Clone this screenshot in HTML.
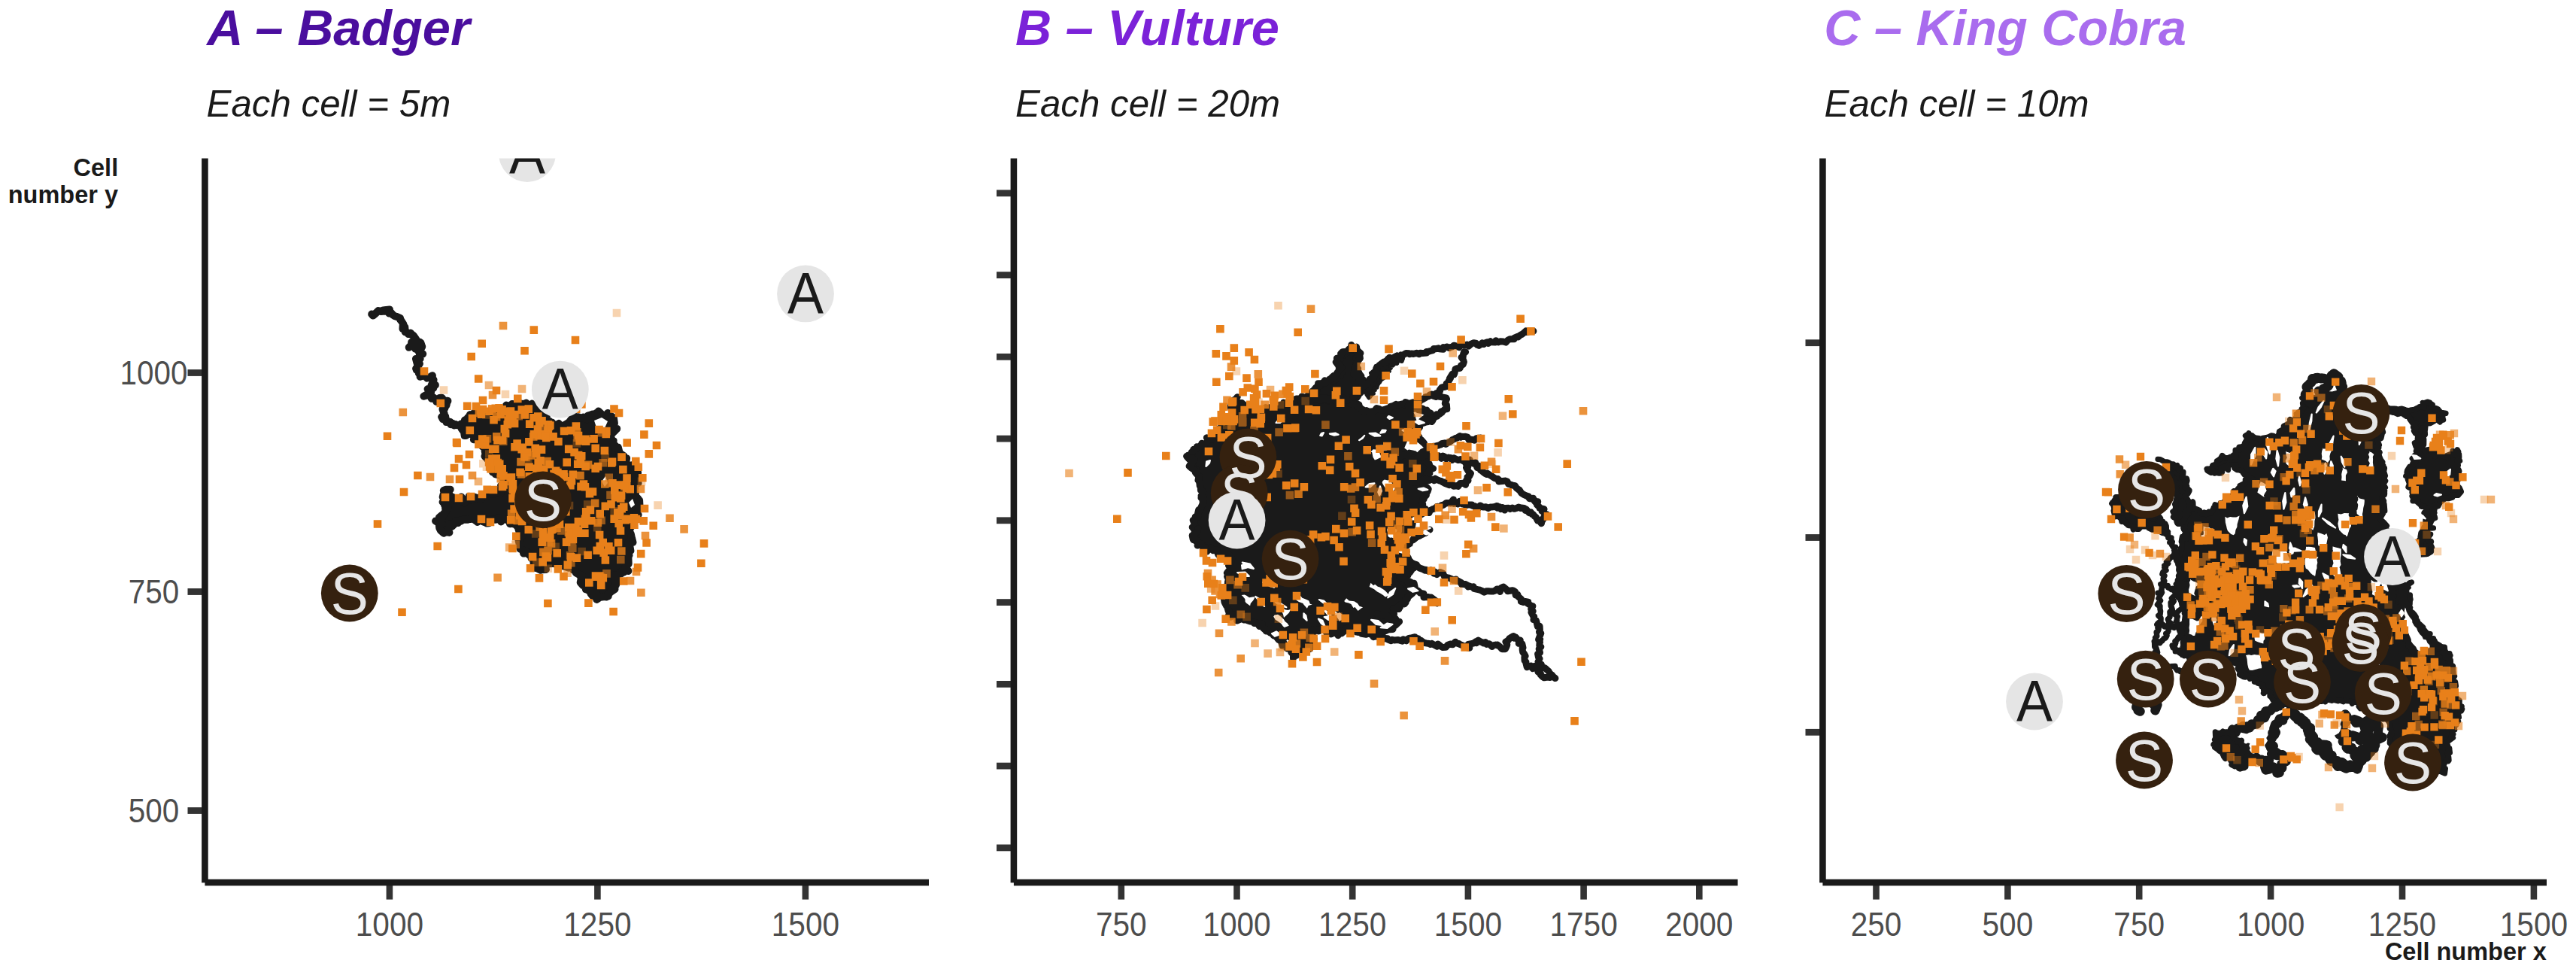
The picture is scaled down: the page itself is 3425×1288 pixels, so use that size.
<!DOCTYPE html>
<html><head><meta charset="utf-8"><title>Movement tracks</title>
<style>html,body{margin:0;padding:0;background:#fff}body{width:3425px;height:1288px;overflow:hidden;font-family:"Liberation Sans",sans-serif}svg{display:block}</style></head>
<body>
<svg width="3425" height="1288" viewBox="0 0 3425 1288" font-family="'Liberation Sans', sans-serif">
<rect width="3425" height="1288" fill="#fff"/>
<defs>
<clipPath id="cp0"><rect x="272.4" y="210.5" width="962.6" height="962.5"/></clipPath>
<clipPath id="cp1"><rect x="1347.9" y="210.5" width="962.6" height="962.5"/></clipPath>
<clipPath id="cp2"><rect x="2423.4" y="210.5" width="962.6" height="962.5"/></clipPath>
</defs>
<g clip-path="url(#cp0)">
<g fill="none" stroke="#1a1a1a" stroke-width="10" stroke-linecap="round" stroke-linejoin="round">
<path d="M494.2 417.6l1.7 2 2.7 -2.2 1.8 -1.8 2.6 -2.6 3.4 0.9 5.3 -0.1 -3.1 -1.2 2.7 -0.5 6.7 -0.7 -0.6 5.2 2.5 -0.9 2.8 3.1 2.3 1.4 1.8 0.5 5.3 2.2 0.3 2.5 0.2 -0.4 3.8 5.9 -0.7 2.2 -0.2 4 2.8 -2.4 0.4 6.6 1.4 -0.4 2.9 3.1 3 -1.4 -0.8 1.7 2.9 0.5 2.1 3.2 -0.4 -1.9 3.5 5 -0.8 0.1 0.4 4.1 -5.8 -0.3 0.7 2.6 -3 3.2 -1.1 1 4.9 -5 6.9 2.6 0.4 -1.8 -3.9 5.9 5.8 -9 1.7 1.3 1.7 5 -1.8 3.4 -3.2 2.3 6 3.9 -4.4 -0.4 0.8 6.7 -3.1 1.2 -2.5 -1 2 7.5 2.9 -0.9 -4.8 6.5 2.8 -2.7 -2.1 4.5 3.4 0.9 -0.4 3.4 2 2.4 -0.2 2.2 4.5 -1.3 1.2 -0.9 3.4 4.1 2 -0.8 0.7 0.4 4.5 -3 -0.2 4.2 1.8 1.4 -0.5 2.1 -2.5 5.4 5.3 -0.7 -4.4 1.5 1.9 2.7 -4.2 2.2 -3.5 -1 4.5 4.5 -9.7 5.1 6 -1.6 -0.9 0.2 3.2 0.2 2.1 4.3 2.1 -1.7 2.9 2 1.5 4 4 -4.9 3.3 -0.3 3.1 4.1 -1.8 -0.2 6.5 0.1 -2.2 0.5 -1.3 1.7 1.6 3.7 0.5 -2.9 -2.9 7.4 -2.1 -0.9 -0.5 1.7 2.2 6 -1.5 2.2 -2 2 1.7 3.1 2.3 -3.6 0.9 -0.4 1.3 7.7 4.7 -0.3 1.3 3.6 2.5 -1.4 2 2.7 1.9 -1.6 -1.7 0.5 6.1 1 1 -0.6 7 -3.1 4.4 5.1 -2.5 -0.4 3.4 -2.6 4.1 0.7 2.7 -1.3 5.1 -3.2"/>
<path fill="#1a1a1a" d="M613.1 563.5l6.4 -1.1 -1.5 -4 5.1 -1.2 -1.1 -2.3 0.7 1.5 2.3 -5.3 3.1 1.3 0.5 -1.8 4.2 -4.1 0.8 -0.8 5.7 3.5 1 3.9 3.8 -4.6 1.9 -0.1 4.9 1.1 0.3 1.8 3.1 -2.5 -1.4 1.7 2.2 -0.5 3.1 -3.2 0.4 2.1 9.6 -4.3 -2 0.8 0.4 -3 9.3 -2.2 -2.7 -1.6 3.1 1.2 0.9 0.7 3.6 -3.5 4.6 0.4 4.5 -0.3 0 0 2 -0.7 5.4 1 -0.9 2.6 1.5 -3.5 1.7 -0.9 3.8 4.3 2.3 -1.7 1.7 -1.4 1.7 1.6 -1.3 3 1.6 -1.4 5.9 2.9 -0.8 0.2 2.9 6 1.2 -2.6 0 7.8 2.5 -2.1 5.6 2.3 -0.4 3.9 4.2 1.3 -0.5 2.1 4.1 -0.2 2.9 5.6 2.9 -1.1 0.8 0.8 -3.2 -0.9 5.4 -3 5.6 6.5 0.5 -0.3 -1.1 -2.6 2.9 -1.6 5.6 -3.5 3 -3.8 3.5 -0.5 -1.5 -1.9 0.8 -4.1 2.6 6.9 2.5 0.1 2 -2.1 -0.5 -1.9 6.3 1.8 0.7 -1.5 4.8 2.9 1.1 -4.8 2.6 1.6 -2.6 -1.3 6.4 -2.5 0 6.5 5.2 -6.1 -1 -1.5 3.1 3.8 0.4 -6.6 8 7.8 4.4 -5.4 0.7 3.5 3.5 1.5 0.9 -0.4 2.6 1.9 0.9 6.3 0.1 1.2 -3.6 4.3 -1 2.1 7.9 0.4 -5.2 0.3 3.6 1.7 -4.4 4.2 -2.5 2.9 0.3 -0.8 -0.6 1.3 1.8 4.1 0.5 2.1 1.9 0.5 -0.5 2.7 0.1 1.4 2.8 2.1 0 3.4 3.8 -1.2 1.8 7 0 0.7 6 4.1 -1.4 1 4.9 1.9 -0.7 5 0 -1.2 -3.6 4.9 6.5 2.5 -2.4 -0.8 8 -1.2 0 5.8 -0.9 3.6 1.3 -1.7 6.8 2.2 -4.9 -0.6 2 5.5 2.7 4.9 -1.6 0.2 0 2 2.3 1.9 -5.5 1.5 -3.8 3.6 5 1.9 -2.7 0.8 1.2 4.5 1 -2.4 1 4.1 0.7 3.9 2.9 2.9 1.8 4.2 -0.1 -2.1 0.5 9.9 0 1.1 -1.7 2 -2 3.3 -1.3 1.2 3 1.6 -1.4 0.2 -8 7.9 0.8 -3.9 2.6 0.1 -2.8 11.3 -1.5 -2.4 1.2 1.9 -1.8 1.8 0.1 2.3 -1.5 1.8 2.5 4.7 0.8 3.6 1.9 7.6 -5.8 -0.3 0.2 5.1 1.1 -1.9 1.4 8.3 -4 -0.7 0.3 2.9 -1.5 3.6 -1.1 -1 4.4 1.1 -1.6 1.6 0.5 0.9 0.3 9 -2.6 -1.6 0.1 3.9 -2 2.2 4.2 4.8 -5.3 -1.4 -0.2 2.9 -4.6 1.8 0.4 0.4 -0.5 -2.2 -3.8 4.4 -4.4 -0.3 0 3 3.6 1.2 -2.7 3.9 3.2 -0.1 -2.5 5.6 -3.7 4 2.6 1 -5.2 3.6 2.3 -2.5 -6.8 6.7 1 1.5 -2.5 1.1 -0.5 -0.6 -5.1 0.6 -2.2 -0.2 -5.2 3.6 0 -3.8 -0.5 -5.2 -3.3 3.3 -1.5 1 -2.5 -3.3 -0.7 -3 -2.9 -1.2 -1.5 -5.2 -1.5 3.9 -1.1 -5.4 -2.7 0.1 -3.4 -3.9 1.1 -5.3 -0.7 -2 1.4 -0.3 0.5 -1.3 -2.9 -1.7 -1.3 0 -4.1 -2.3 -0.8 -4.7 -2.6 1.1 2.3 -1.9 -5.6 -1.9 0.6 -3.3 -4 4 -6.8 -2.4 -1.4 -4.7 -2.4 5.2 -1 -4.3 -3.1 2.7 -1.2 -0.6 -1.4 -1.8 -8.2 0.5 -4.1 -0.4 -0.3 5.5 -1.6 -2.9 1.8 5.5 -6 0.4 -1.1 0.4 -3.5 -1.8 1.3 1 -3.5 -4 -1.3 2.1 -0.6 -3.2 -1.7 -3.7 0.8 -2.9 -3.8 -3.2 2.3 -0.8 -3.7 -2.5 -3.3 -2.4 -4.5 -2.8 4.4 0.4 -5.6 1.7 -0.8 -4.4 -3.8 -1.5 -0.4 -3 -0.7 -4.7 -0.8 -3.6 2.2 -0.8 -0.8 -0.9 -0.2 -3.4 1.4 1.2 3.5 -4 -5.8 -0.3 3.3 -0.5 2.8 -2.3 -5.2 0.4 -2.1 -7 2.4 -3 -4.4 1 0 -1.6 -7 -1.3 -1.7 0.4 1.5 -3.8 -3.1 -1.8 -3.4 0.3 -4.2 -1.9 -2.6 4.3 0.3 -1.3 -4.1 -4 -2 2.3 -1.8 0.3 -9.5 -0.8 1.1 5.3 -3.2 0.4 1.2 -2.9 -1.2 1.2 -2.8 0.3 -5.1 -2 -1.7 -2.5 -2.6 4.2 -6.1 -4.7 -3.7 0.9 -1.9 0.1 -0.9 0.5 -6 -0.2 -4.8 1.1 1.6 1 2.8 -1.8 -4.7 1.1 -2.2 3.2 -3.1 -2.7 -1.5 4.1 -3.3 3.3 -4.5 -3.4 1.5 3.6 1.8 -0.6 -6.4 7.5 4 1 -4.1 -0.8 -3.4 1.6 -2.8 -2.6 -1.3 -1.1 -1.5 -3.2 -0.3 -2.5 1.7 -5 0.8 2.3 -5.1 -2.6 -2.3 -1.4 3.2 0.7 1.6 -5.5 3.8 -3.1 0.5 1.3 0.4 0.9 1.9 -4.8 2.2 -2 -0.7 -6 3.8 1.1 -4.7 -3.6 3.9 -2 -6.4 -2.2 4.5 -4.6 -4 -3.5 0.5 -2.1 -0.9 3.6 1.4 -5 1.2 -1.7 -1.5 -2.1 3.2 -1.2 5.7 -0.1 -3.5 3.3 4.1 5.8 3.2 1.4 0.1 0 2.2 3.7 1.6 -2.6 4.6 0.2 2.4 -2 1.5 6.6 1.9 -2 0.5 3.2 4.7 -5.7 4.6 2.2 -3.1 -5 2 2.2 5.7 -1.3 0.3 1.9 6.7 0.6 -1.2 -1.8 3.3 1.4 3.1 -4.4 3.9 1 -1.2 -0.6 2 -3.7 1.4 1.2 6.2 0.7 4.3 -4.9 5.4 3.8 -3 -2 6.9 -4.8 -3.3 -3.4 8.7 -1.5 -0.9 -2.2 -1.8 -2.8 -1.8 -3.9 -1.1 1.6 0.1 -0.7 -3.7 -4.3 -6.5 -1.5 -0.5 -0.3 3.1 0.1 -3.6 -5.9 -3 3.2 3.8 -1.6 -1.3 -2.4 -4.9 -3.2 -0.6 -5.8 1 -2.7 -2.4 -0.3 -0.7 0.8 -5.4 -5.9 2.7 -1.3 -1.5 0.3 -1 -6.3 2.9 -2 -4.1 -3.2 -2.4 -0.6 2.4 -5.6 -2.7 -1.6 -5 -1 -2.7 -1.2 1 0.1 -4.2 0.3 0.8 -6.3 -5.7 -1.2 -2.8 -1.7 -2.3 3.9 -2.2 0 -0.7 -5 2.8 3.1 -4.8 -5.6 -1.3 -1.8 -0.7 -3 4.1 -2.2z"/>
</g>
<path fill="#fff" d="M790 559l10-4 8 5-4 9-10 2z M836 668l5-5 3 8-5 4z M800 640l5-7 3 9-4 5z"/>
<path fill="#E8801A" d="M806.9 726.4h10.6v10.6h-10.6zM772.7 684.5h10.6v10.6h-10.6zM780.8 687h10.6v10.6h-10.6zM679.2 589h10.6v10.6h-10.6zM738.7 691.5h10.6v10.6h-10.6zM712.9 571.9h10.6v10.6h-10.6zM793.9 772.7h10.6v10.6h-10.6zM793.7 762.5h10.6v10.6h-10.6zM676.2 547.3h10.6v10.6h-10.6zM678.8 557.6h10.6v10.6h-10.6zM669.5 558.9h10.6v10.6h-10.6zM678.7 652.1h10.6v10.6h-10.6zM747 675h10.6v10.6h-10.6zM732 643h10.6v10.6h-10.6zM732.4 653h10.6v10.6h-10.6zM734 666.2h10.6v10.6h-10.6zM685.8 679.9h10.6v10.6h-10.6zM688.8 687.6h10.6v10.6h-10.6zM827.9 638.9h10.6v10.6h-10.6zM823.1 618.8h10.6v10.6h-10.6zM692.7 546.1h10.6v10.6h-10.6zM704.3 549.9h10.6v10.6h-10.6zM697.5 538.3h10.6v10.6h-10.6zM640 580.6h10.6v10.6h-10.6zM715.9 674.8h10.6v10.6h-10.6zM786.7 760.3h10.6v10.6h-10.6zM760.6 561.2h10.6v10.6h-10.6zM763.7 573.7h10.6v10.6h-10.6zM710 548.3h10.6v10.6h-10.6zM829.5 684.5h10.6v10.6h-10.6zM756.5 625.5h10.6v10.6h-10.6zM744.2 625h10.6v10.6h-10.6zM733.8 620.6h10.6v10.6h-10.6zM711.7 690.4h10.6v10.6h-10.6zM743.8 656.5h10.6v10.6h-10.6zM743 644.7h10.6v10.6h-10.6zM732.8 645.8h10.6v10.6h-10.6zM673.7 541.3h10.6v10.6h-10.6zM715.5 670.6h10.6v10.6h-10.6zM762.4 703.3h10.6v10.6h-10.6zM751 695.7h10.6v10.6h-10.6zM776.3 732.4h10.6v10.6h-10.6zM726 709.3h10.6v10.6h-10.6zM761.9 699.8h10.6v10.6h-10.6zM756.6 711.7h10.6v10.6h-10.6zM747.8 715.3h10.6v10.6h-10.6zM707.8 597.5h10.6v10.6h-10.6zM714.7 592.3h10.6v10.6h-10.6zM788.4 726.5h10.6v10.6h-10.6zM796.4 715.8h10.6v10.6h-10.6zM804.1 720.9h10.6v10.6h-10.6zM673.9 686h10.6v10.6h-10.6zM692 602h10.6v10.6h-10.6zM748.4 609.3h10.6v10.6h-10.6zM684.2 662.7h10.6v10.6h-10.6zM773.9 675h10.6v10.6h-10.6zM807.2 664.9h10.6v10.6h-10.6zM720.1 638h10.6v10.6h-10.6zM737.1 581.7h10.6v10.6h-10.6zM792.4 677.8h10.6v10.6h-10.6zM799.5 667.6h10.6v10.6h-10.6zM772.6 642h10.6v10.6h-10.6zM778.7 651h10.6v10.6h-10.6zM711.8 556.8h10.6v10.6h-10.6zM724.5 561.4h10.6v10.6h-10.6zM689.5 589.4h10.6v10.6h-10.6zM698.1 582.1h10.6v10.6h-10.6zM669.7 541.4h10.6v10.6h-10.6zM812 646.2h10.6v10.6h-10.6zM820 657.2h10.6v10.6h-10.6zM823.9 668.4h10.6v10.6h-10.6zM767.2 641.4h10.6v10.6h-10.6zM779.6 672.6h10.6v10.6h-10.6zM774.2 681h10.6v10.6h-10.6zM808.7 608.5h10.6v10.6h-10.6zM799.6 739.2h10.6v10.6h-10.6zM797.4 729.5h10.6v10.6h-10.6zM792.5 720.7h10.6v10.6h-10.6zM711.5 573.9h10.6v10.6h-10.6zM720.9 576.7h10.6v10.6h-10.6zM730.3 575.1h10.6v10.6h-10.6zM737.2 656h10.6v10.6h-10.6zM738.4 666.8h10.6v10.6h-10.6zM753.1 640h10.6v10.6h-10.6zM772.1 703.4h10.6v10.6h-10.6zM771.8 691.4h10.6v10.6h-10.6zM739.6 632.4h10.6v10.6h-10.6zM731.2 624.4h10.6v10.6h-10.6zM766.5 606.5h10.6v10.6h-10.6zM789.7 614.8h10.6v10.6h-10.6zM725.6 611.9h10.6v10.6h-10.6zM717.8 618.2h10.6v10.6h-10.6zM710.4 609.8h10.6v10.6h-10.6zM819.7 700.2h10.6v10.6h-10.6zM729.7 698.2h10.6v10.6h-10.6zM736.8 681.9h10.6v10.6h-10.6zM773.2 578.6h10.6v10.6h-10.6zM765.3 581h10.6v10.6h-10.6zM688.5 539.3h10.6v10.6h-10.6zM679.1 545.7h10.6v10.6h-10.6zM724.6 660.1h10.6v10.6h-10.6zM713.9 666.7h10.6v10.6h-10.6zM721.3 672.3h10.6v10.6h-10.6zM713.1 607.1h10.6v10.6h-10.6zM821.3 671h10.6v10.6h-10.6zM686.3 622.4h10.6v10.6h-10.6zM708.2 617.4h10.6v10.6h-10.6zM832.4 645h10.6v10.6h-10.6zM676.3 657.1h10.6v10.6h-10.6zM676.7 645.7h10.6v10.6h-10.6zM670.4 553.4h10.6v10.6h-10.6zM671.9 544.5h10.6v10.6h-10.6zM816.7 716h10.6v10.6h-10.6zM744.7 628.7h10.6v10.6h-10.6zM736.1 622.8h10.6v10.6h-10.6zM682.3 584.3h10.6v10.6h-10.6zM688.4 591.8h10.6v10.6h-10.6zM760.1 695.7h10.6v10.6h-10.6zM701.3 683.7h10.6v10.6h-10.6zM697 676.1h10.6v10.6h-10.6zM731.2 657.1h10.6v10.6h-10.6zM719.7 656.1h10.6v10.6h-10.6zM717.7 664.1h10.6v10.6h-10.6zM706.4 590.5h10.6v10.6h-10.6zM695.5 595.9h10.6v10.6h-10.6zM800.5 571.6h10.6v10.6h-10.6zM750.9 591.6h10.6v10.6h-10.6zM758.3 596h10.6v10.6h-10.6zM704.7 572.1h10.6v10.6h-10.6zM709.7 565.2h10.6v10.6h-10.6zM723.2 567.5h10.6v10.6h-10.6zM796.5 763h10.6v10.6h-10.6zM787 761.5h10.6v10.6h-10.6zM778 769.2h10.6v10.6h-10.6zM763.8 599.8h10.6v10.6h-10.6zM791.8 705.7h10.6v10.6h-10.6zM678.3 671.2h10.6v10.6h-10.6zM684 659.5h10.6v10.6h-10.6zM816 675.9h10.6v10.6h-10.6zM744.8 567.7h10.6v10.6h-10.6zM828.2 630.3h10.6v10.6h-10.6zM818.9 639.3h10.6v10.6h-10.6zM809.1 637h10.6v10.6h-10.6zM698.1 615.4h10.6v10.6h-10.6zM698.5 628h10.6v10.6h-10.6zM767.9 600.9h10.6v10.6h-10.6zM782.7 648.2h10.6v10.6h-10.6zM770.7 638.2h10.6v10.6h-10.6zM754.7 634h10.6v10.6h-10.6zM722.6 736h10.6v10.6h-10.6zM726.1 560.2h10.6v10.6h-10.6zM698.9 558.3h10.6v10.6h-10.6zM707.2 550h10.6v10.6h-10.6zM754 701.4h10.6v10.6h-10.6zM763.6 700.6h10.6v10.6h-10.6zM763.6 687.9h10.6v10.6h-10.6zM820.8 653.3h10.6v10.6h-10.6zM812.6 656h10.6v10.6h-10.6zM827.7 643.6h10.6v10.6h-10.6zM662.6 579.7h10.6v10.6h-10.6zM666.8 570.8h10.6v10.6h-10.6zM715.2 554h10.6v10.6h-10.6zM723.7 559h10.6v10.6h-10.6zM792 760.2h10.6v10.6h-10.6zM826.8 685.9h10.6v10.6h-10.6zM798.6 593.7h10.6v10.6h-10.6zM807.9 610.2h10.6v10.6h-10.6zM786.4 617.5h10.6v10.6h-10.6zM773.3 614.6h10.6v10.6h-10.6zM762.9 611.4h10.6v10.6h-10.6zM676.6 638h10.6v10.6h-10.6zM674.6 629.3h10.6v10.6h-10.6zM753.7 567h10.6v10.6h-10.6zM773.9 581.3h10.6v10.6h-10.6zM791.2 565.7h10.6v10.6h-10.6zM801 567.8h10.6v10.6h-10.6zM818.8 679.5h10.6v10.6h-10.6zM811.4 684.3h10.6v10.6h-10.6zM817.4 690.3h10.6v10.6h-10.6zM786.4 590.6h10.6v10.6h-10.6zM784.3 578.1h10.6v10.6h-10.6zM665.5 564.8h10.6v10.6h-10.6zM619.5 566.7h10.6v10.6h-10.6zM651.2 552.9h10.6v10.6h-10.6zM660.7 545.7h10.6v10.6h-10.6zM658.3 537h10.6v10.6h-10.6zM631.1 585.3h10.6v10.6h-10.6zM650.8 608.4h10.6v10.6h-10.6zM664.1 627.1h10.6v10.6h-10.6zM658 618.2h10.6v10.6h-10.6zM653.5 537.5h10.6v10.6h-10.6zM636.8 538.7h10.6v10.6h-10.6zM656.2 579.8h10.6v10.6h-10.6zM662.4 617.9h10.6v10.6h-10.6zM649.2 604.7h10.6v10.6h-10.6zM645.8 615.1h10.6v10.6h-10.6zM658.9 611.5h10.6v10.6h-10.6zM660.6 623.9h10.6v10.6h-10.6zM662.3 538.9h10.6v10.6h-10.6zM653.6 537.7h10.6v10.6h-10.6zM634.6 545.4h10.6v10.6h-10.6zM649.9 591.5h10.6v10.6h-10.6zM639.6 586.1h10.6v10.6h-10.6zM636 578.3h10.6v10.6h-10.6zM654.5 604.2h10.6v10.6h-10.6zM653.1 591.5h10.6v10.6h-10.6zM645.3 541.5h10.6v10.6h-10.6zM634.1 539.8h10.6v10.6h-10.6zM761.6 736.3h10.6v10.6h-10.6zM715.4 715.3h10.6v10.6h-10.6zM753.8 734.9h10.6v10.6h-10.6zM727.9 698.9h10.6v10.6h-10.6zM717 706.4h10.6v10.6h-10.6zM716.8 702.1h10.6v10.6h-10.6zM751.9 707.9h10.6v10.6h-10.6zM753.1 708.1h10.6v10.6h-10.6zM697.5 698.7h10.6v10.6h-10.6zM702.8 734.8h10.6v10.6h-10.6zM716.4 741.8h10.6v10.6h-10.6zM720.4 734.2h10.6v10.6h-10.6zM735.4 730h10.6v10.6h-10.6zM615.9 534.5h10.6v10.6h-10.6zM840 607.8h10.6v10.6h-10.6zM837.7 682.9h10.6v10.6h-10.6zM823.9 767.2h10.6v10.6h-10.6zM647.2 618h10.6v10.6h-10.6zM644.8 609.2h10.6v10.6h-10.6zM711.7 763.1h10.6v10.6h-10.6zM849 630h10.6v10.6h-10.6zM683 524.6h10.6v10.6h-10.6zM768.1 532.2h10.6v10.6h-10.6zM843.5 615.5h10.6v10.6h-10.6zM850.4 687.1h10.6v10.6h-10.6zM749.5 745.6h10.6v10.6h-10.6zM676.1 723.7h10.6v10.6h-10.6zM821.3 602.3h10.6v10.6h-10.6zM699.8 750h10.6v10.6h-10.6zM760.9 538.3h10.6v10.6h-10.6zM664.2 639.1h10.6v10.6h-10.6zM838.1 692.4h10.6v10.6h-10.6zM777.1 796.3h10.6v10.6h-10.6zM736.6 751.1h10.6v10.6h-10.6zM681 707.6h10.6v10.6h-10.6zM744.2 761h10.6v10.6h-10.6zM846.9 730.8h10.6v10.6h-10.6zM642.4 645.4h10.6v10.6h-10.6zM842.7 749.1h10.6v10.6h-10.6zM586.7 655.7h10.6v10.6h-10.6zM604.7 656.7h10.6v10.6h-10.6zM620.7 654.7h10.6v10.6h-10.6zM635.7 651.7h10.6v10.6h-10.6zM650.7 645.7h10.6v10.6h-10.6zM662.7 641.7h10.6v10.6h-10.6zM634.7 684.7h10.6v10.6h-10.6zM646.7 688.7h10.6v10.6h-10.6zM601.7 582.7h10.6v10.6h-10.6zM604.7 604.7h10.6v10.6h-10.6zM618.7 598.7h10.6v10.6h-10.6zM704.5 433.3h10.6v10.6h-10.6zM759.7 446.7h10.6v10.6h-10.6zM635.4 451.5h10.6v10.6h-10.6zM692.2 461h10.6v10.6h-10.6zM621.4 468.7h10.6v10.6h-10.6zM630.9 498.2h10.6v10.6h-10.6zM558.7 488.2h10.6v10.6h-10.6zM580.5 530.7h10.6v10.6h-10.6zM509.7 574.5h10.6v10.6h-10.6zM602.3 583.7h10.6v10.6h-10.6zM550.1 626.7h10.6v10.6h-10.6zM531.7 648.7h10.6v10.6h-10.6zM496.7 691.2h10.6v10.6h-10.6zM576.4 720.7h10.6v10.6h-10.6zM604.1 777.7h10.6v10.6h-10.6zM529.2 808.4h10.6v10.6h-10.6zM723.1 796.7h10.6v10.6h-10.6zM810.3 807.7h10.6v10.6h-10.6zM927 743.5h10.6v10.6h-10.6zM930.7 717.1h10.6v10.6h-10.6zM854.3 716.2h10.6v10.6h-10.6zM863.4 693.5h10.6v10.6h-10.6zM857.5 557.3h10.6v10.6h-10.6zM851.1 572.3h10.6v10.6h-10.6zM867.7 586.7h10.6v10.6h-10.6zM857.5 598.1h10.6v10.6h-10.6zM828.4 583.2h10.6v10.6h-10.6zM817.7 543.7h10.6v10.6h-10.6zM811.2 538.2h10.6v10.6h-10.6zM654.7 513.7h10.6v10.6h-10.6zM627.7 534.7h10.6v10.6h-10.6zM636.7 526.7h10.6v10.6h-10.6zM622.7 550.7h10.6v10.6h-10.6zM840.7 684.7h10.6v10.6h-10.6zM851.7 670.7h10.6v10.6h-10.6zM598.7 616.7h10.6v10.6h-10.6zM605.7 631.7h10.6v10.6h-10.6zM614.7 612.7h10.6v10.6h-10.6z"/>
<path fill="#E8801A" fill-opacity="0.85" d="M723.6 565.7h10.6v10.6h-10.6zM792.9 725.8h10.6v10.6h-10.6zM693.1 677.2h10.6v10.6h-10.6zM705.5 678.4h10.6v10.6h-10.6zM716.2 678.3h10.6v10.6h-10.6zM674.8 677.5h10.6v10.6h-10.6zM682.5 686.6h10.6v10.6h-10.6zM705.4 678.7h10.6v10.6h-10.6zM687.2 608.7h10.6v10.6h-10.6zM785.8 663.6h10.6v10.6h-10.6zM716.1 651.4h10.6v10.6h-10.6zM703.9 575.1h10.6v10.6h-10.6zM743.4 642.5h10.6v10.6h-10.6zM776.8 612.6h10.6v10.6h-10.6zM821 727.2h10.6v10.6h-10.6zM728.8 690h10.6v10.6h-10.6zM761.9 569h10.6v10.6h-10.6zM701.9 600.2h10.6v10.6h-10.6zM722.3 607.8h10.6v10.6h-10.6zM824.8 641.5h10.6v10.6h-10.6zM673.4 634.6h10.6v10.6h-10.6zM751.2 702.7h10.6v10.6h-10.6zM766.2 626.8h10.6v10.6h-10.6zM715.5 690.8h10.6v10.6h-10.6zM789.6 689.5h10.6v10.6h-10.6zM687.6 625.1h10.6v10.6h-10.6zM655 575.1h10.6v10.6h-10.6zM799 638.2h10.6v10.6h-10.6zM631.6 543.3h10.6v10.6h-10.6zM649.2 617.9h10.6v10.6h-10.6zM660.5 631h10.6v10.6h-10.6zM658.3 612.6h10.6v10.6h-10.6zM648.9 538.2h10.6v10.6h-10.6zM656.5 609.7h10.6v10.6h-10.6zM654.8 548.8h10.6v10.6h-10.6zM735.1 696.3h10.6v10.6h-10.6zM727.7 717.1h10.6v10.6h-10.6zM723.2 726.5h10.6v10.6h-10.6zM717.1 728.6h10.6v10.6h-10.6zM712.4 695.2h10.6v10.6h-10.6zM663.7 427.7h10.6v10.6h-10.6zM530.5 542.7h10.6v10.6h-10.6zM566.7 628.7h10.6v10.6h-10.6zM656.3 762.5h10.6v10.6h-10.6zM847.1 782.5h10.6v10.6h-10.6zM904.3 698.1h10.6v10.6h-10.6zM885.2 683.5h10.6v10.6h-10.6zM649.7 519.7h10.6v10.6h-10.6zM846.7 644.7h10.6v10.6h-10.6zM852.7 706.7h10.6v10.6h-10.6zM840.7 754.7h10.6v10.6h-10.6zM832.7 766.7h10.6v10.6h-10.6zM622.7 626.7h10.6v10.6h-10.6zM592.7 631.7h10.6v10.6h-10.6z"/>
<path fill="#E8801A" fill-opacity="0.6" d="M750.5 702.3h10.6v10.6h-10.6zM741 700.1h10.6v10.6h-10.6zM748 665.8h10.6v10.6h-10.6zM684.4 548h10.6v10.6h-10.6zM727.1 649.2h10.6v10.6h-10.6zM716.8 561.6h10.6v10.6h-10.6zM719.6 574.4h10.6v10.6h-10.6zM794.3 686.4h10.6v10.6h-10.6zM820 738.7h10.6v10.6h-10.6zM663.9 581.4h10.6v10.6h-10.6zM794.6 569.8h10.6v10.6h-10.6zM694.6 602.6h10.6v10.6h-10.6zM806.2 652.8h10.6v10.6h-10.6zM801.2 757.1h10.6v10.6h-10.6zM762.3 576.4h10.6v10.6h-10.6zM804.4 629.5h10.6v10.6h-10.6zM796.4 609.9h10.6v10.6h-10.6zM642.7 578h10.6v10.6h-10.6zM754 742.8h10.6v10.6h-10.6zM724.2 715.9h10.6v10.6h-10.6zM755.2 721.4h10.6v10.6h-10.6zM756 723.4h10.6v10.6h-10.6zM752.8 733.1h10.6v10.6h-10.6zM680.4 718.5h10.6v10.6h-10.6zM749.2 756.4h10.6v10.6h-10.6zM649.2 538h10.6v10.6h-10.6zM671.9 722.3h10.6v10.6h-10.6zM644.7 506.7h10.6v10.6h-10.6zM688.7 511.7h10.6v10.6h-10.6zM630.7 634.7h10.6v10.6h-10.6z"/>
<path fill="#E8801A" fill-opacity="0.35" d="M788.9 695.9h10.6v10.6h-10.6zM675.7 643.6h10.6v10.6h-10.6zM768.3 727.7h10.6v10.6h-10.6zM761.6 584.1h10.6v10.6h-10.6zM697 608.9h10.6v10.6h-10.6zM775.9 665.3h10.6v10.6h-10.6zM751.7 666.7h10.6v10.6h-10.6zM811.4 673.9h10.6v10.6h-10.6zM698.2 615.4h10.6v10.6h-10.6zM767.3 688.3h10.6v10.6h-10.6zM799.3 603.1h10.6v10.6h-10.6zM641.1 546.1h10.6v10.6h-10.6zM645 598.2h10.6v10.6h-10.6zM708.1 742.2h10.6v10.6h-10.6zM706.9 704.2h10.6v10.6h-10.6zM733.4 721.5h10.6v10.6h-10.6zM847.7 634.6h10.6v10.6h-10.6zM641.7 615.5h10.6v10.6h-10.6zM723.6 750.4h10.6v10.6h-10.6zM637.1 611h10.6v10.6h-10.6zM814.7 410.7h10.6v10.6h-10.6zM584.7 513.2h10.6v10.6h-10.6zM869.3 666.3h10.6v10.6h-10.6zM666.7 518.7h10.6v10.6h-10.6z"/>
<circle cx="722" cy="664.3" r="37.9" fill="#35210F"/>
<circle cx="464.8" cy="788.5" r="37.9" fill="#35210F"/>
<text transform="translate(722 691.5) scale(1 1.03)" font-size="75" fill="#E6E6E6" text-anchor="middle">S</text>
<text transform="translate(464.8 815.7) scale(1 1.03)" font-size="75" fill="#E6E6E6" text-anchor="middle">S</text>
<circle cx="701" cy="204" r="37.9" fill="#E5E5E5"/>
<circle cx="1071" cy="390.4" r="37.9" fill="#E5E5E5"/>
<circle cx="744.8" cy="517.6" r="37.9" fill="#E5E5E5"/>
<text transform="translate(701 230.6) scale(1 1.09)" font-size="72" fill="#1a1a1a" text-anchor="middle">A</text>
<text transform="translate(1071 417) scale(1 1.09)" font-size="72" fill="#1a1a1a" text-anchor="middle">A</text>
<text transform="translate(744.8 544.2) scale(1 1.09)" font-size="72" fill="#1a1a1a" text-anchor="middle">A</text>
</g>
<g clip-path="url(#cp1)">
<g fill="none" stroke="#1a1a1a" stroke-width="9" stroke-linecap="round" stroke-linejoin="round">
<path fill="#1a1a1a" d="M1578.5 606.6l0.9 -1.4 3.2 0.4 1.6 -4.4 1.3 0.3 1.4 -4.3 3.9 -1.3 0.5 0.2 0 -2.3 3.8 0.3 2.6 -2.3 0.1 -2.6 3.8 1.7 2.7 -2.7 2.9 -4 -2.8 -2.4 7.3 2.5 0.4 -5.8 -0.3 -1.3 7 -1.6 -0.5 -1 4.4 -2.1 -1.7 -3.1 5.2 -1.1 0.6 -2.4 -0.7 -2.5 1.9 1.5 -0.1 -4.9 4.2 1.4 3.4 -4 0.3 -0.2 0.8 -3.4 2.7 1.5 1.3 -1.6 -0.9 -5.6 -0.7 -2.8 4.2 1 -0.7 -7.1 -0.8 0.1 -0.1 -0.8 -1.5 -3.2 3.4 -2.1 1.1 1.9 1.5 0.3 5.1 0.1 3.9 3.5 -0.1 4.2 -1.4 1.9 4 0 0.7 4.4 4.1 1.7 -2.6 -3.2 4 -1.1 4.2 -0.2 -0.1 -0.5 2.9 1.7 2.6 -0.8 6.7 -1.9 2.7 -2 -0.3 -1.6 2.4 2.1 2.5 -2 1.9 0.5 5.4 -2 -2.4 -2.6 5.7 1.8 2.8 -0.9 5.7 -0.9 -0.5 -0.3 0.8 -2.2 4.9 1.1 1 1.7 2.2 -3.6 2 2.6 2.1 -2.9 3 -1.6 1.2 -2.5 6.8 0.2 0.9 2.1 4.1 -2.9 -4.1 -2.3 6.1 2.1 2.2 -3.9 1.8 -0.2 3.9 -0.6 1.5 0.7 1.9 5.3 -0.3 0.4 4.9 -2 4.7 -0.5 -1.2 1.5 2.7 1.9 1.6 -1 5.9 2.1 6.5 -3.8 -0.2 2.5 1.1 -1.3 4.1 0.3 2.3 2.1 1.2 -4.2 1.8 1.2 5.2 1.2 2.1 -1.8 0.4 3.5 2.2 3.4 5 1.1 2.6 -0.5 -0.4 -1.9 6.4 3.4 -2.4 2.4 2.3 -1.2 2.5 3.7 4.5 2.7 -0.3 1.7 3.4 -1.7 3.1 1.7 5 -0.5 2.2 -0.2 3.1 -4 3.8 1 0.5 0.7 3.3 0.9 3.9 -1.1 3 -1.3 1.2 2.6 2.6 -5.1 4.9 -1.1 0.3 -0.6 2.3 -1.3 -1 1.3 5.1 -0.8 4.2 -0.8 6.1 1.7 -1.8 -4.2 0.4 0.1 4.2 2 5.6 -1.9 0.5 3 2 -1.2 2.4 1.1 1.2 1.2 2.7 2.6 0 1.3 3.3 0.2 3.5 2.7 2.5 -0.5 0.4 2.1 4.9 1.9 -0.4 1.1 1.5 3.8 -1.5 -0.7 2.5 3.5 1.5 -0.1 -2.2 3.9 -1.3 -1.4 -4.5 -0.8 1 2.1 -3.5 0.7 -3.6 1.3 -1.1 -0.4 -2 1.2 -1.8 1.6 -2.3 1.9 3 1.1 -3.7 4.4 -3 3 -5.1 0.3 4.5 -0.2 1.2 3.1 4.5 1.4 1 1 0 3.6 2.9 0.3 3.5 4.1 0.5 2.2 -1.8 2.3 -1.7 1.9 -0.4 1.4 -0.9 1 -3.3 1.2 1.6 1.5 -0.5 4.3 6.6 1.6 2.1 2 -4.6 3.5 7.8 -1.9 -2.1 4.6 3.2 1.4 1.4 3.8 1.7 2.1 2.6 0.9 -5.6 2.3 0.8 4 -3.8 1 -0.9 6.8 -1.2 -1.5 -2.4 6.4 -0.4 2.9 2.9 1.3 -2.5 -0.9 3.7 2.1 3 2.9 -0.8 2.8 -1.8 2.9 -0.6 0.3 0.4 2.2 -4.1 4 0.8 1.3 -2.6 3.3 1.2 3.4 -2 1.8 0.3 3.4 5 0.7 0.2 1.8 -2.3 0.5 -3.8 3.2 0.2 2.4 -2.5 0.3 -3.7 2 -0.3 2.4 0.3 1.5 -4.6 -0.5 -0.3 5.9 -0.9 5.1 -0.3 -2.6 -0.9 0.7 -3.1 3.7 1 1.1 -2 2.1 -0.6 1.7 -3.8 4 -1.3 4.3 0.1 1.8 -1.2 -1.4 2.7 5.3 -1.5 -0.5 -2.5 2.3 1.4 2.6 1.5 4.6 3.1 2.9 -2.1 2.4 -0.7 0.4 2.5 1.2 3 4.6 -2.6 1.2 0.4 4.6 4.4 -1.9 2.1 4.5 -0.2 -1.4 5 4.1 -1.6 2 -1 -0.5 -4.7 6.6 -1.8 -1.6 -0.6 5.3 -4.9 2.8 0.4 0.4 -0.7 1.1 -3.7 1.4 -2.1 -3.3 3.3 5.1 1.2 1.2 3.5 2.9 0.4 -2 4.1 2.8 1 2.8 -0.9 2.1 5.7 2.4 0.6 1.9 -1.7 2.1 -4.2 3.4 -2.1 0.7 -0.5 3.8 -2.9 1 0.7 3.1 -1.8 2.4 -2.1 -1.5 -5.1 3.6 1.2 2.2 -2.7 -0.5 1.2 2.8 -3.8 -0.5 -2.4 0.4 -1.3 -0.7 1.1 7.4 -1.7 0.2 0.6 1 0.3 2 3 3.4 1.9 4 3 -0.5 -5.5 5.2 -2.8 1 -2.1 -0.4 -2 3.2 3.8 1.2 -8.1 0.7 0.9 0.4 -3.8 1.5 -3.8 3.1 -2.4 -0.7 -2.2 0.2 -3.2 0.2 -3.7 -1.5 -2.2 2.7 -3.7 -2.7 -0.8 2 -2.6 0.9 -6.1 -0.9 0.9 -2.7 -5.1 0.8 -0.1 -0.7 -3.2 -1 -2.6 -2 -4.2 -2.7 -4.3 1 -3.1 0.9 -0.2 2.1 -4.8 4.1 -1.9 -3.3 -1.5 2.1 -1 3.8 0 -1.2 -0.4 0.8 -2.3 -3.9 -4.7 1.5 -2.1 1 -3.5 -1.7 -1.8 1.5 -2.7 -6.5 -7.2 2 0.3 -1.1 -1.4 1.8 0.2 -1.9 -4 0.7 -4.7 4.2 0.3 -5 -1.9 6.8 -0.2 2.2 4.3 3.8 -4.5 5.8 -0.3 2.1 -0.3 2.5 -0.6 2.5 -4 0.9 -3.1 0.2 -3.1 5.1 -1.4 -1 -2.8 -2.3 -3.4 5.8 -3.5 -0.6 -0.9 4.3 0 -5.2 -2.7 -2.7 1.9 -3 -7.9 -3.3 0.5 1.3 -6.2 -6.2 0.1 2.8 -1.9 -6.2 -3.4 -2.2 0 0.1 -2.5 -3.4 -0.9 -1.4 -2.9 -0.5 -2.3 -3 -2.6 -1.1 -1.2 -1 -2.7 -2.8 -1.4 1.8 -1.3 -1.9 -2.1 -1.6 -1.4 -1.6 -0.6 -4.7 -4.4 1.9 0.9 1.4 -2.7 -4.2 -4.2 0.1 -1.8 -1.7 -4.3 -0.9 -3 -1 -0.9 -1.3 -3.5 0.6 -3.4 -1.8 -6.1 2.8 1.3 -2.8 0.8 -2.1 -5.9 -2.9 -3.5 2.7 -3.3 0.4 -0.7 -1.3 1.1 -4.3 -0.5 -2.8 -0.8 0 -1.3 -5.2 0.8 -2.9 -2 1.4 -2.6 -4.9 -0.4 -2.9 -0.8 -4.5 0.6 -0.3 2.9 -1.2 -1.5 -2.3 1.8 -2.6 2.2 -0.9 -1.1 -6.6 0.7 -3.9 0.1 -1.8 1.3 -4 -2.2 -3.1 0.4 1 1.4 -7.6 -2 1.8 3.6 -4.6 0.2 -7.3 0.2 2.8 -1.9 -0.7 3.8 -4.8 0.3 -4.5 -3.4 -1 0.8 -3.2 -1.1 -0.7 -4.5 -0.8 -3.9 0.4 0 -0.3 -5.6 0.7 -1 -2.4 -1 -4.3 -4.8 1 -1.8 -1.3 -1.4 -2.7 -3.2 2.5 -4.2 0.5 -0.5 -3.7 -1.7 -1.6 -1 1.2 -2.9 -3.6 -4.3 2 1 -2.9 -2 -1.8 -0.2 -2.7 -0.2 -4.6 0.5 -2 -3.1 -3.5 1.9 -3.3 -1.5 0.6 -3.3 -4.2 1.4 -0.8 2.5 -1.1 -2.9 -7.4 2 0.5 1 -4.8 3.5 0 0.3 -3.5 -0.6 -0.3 1.3 -5.7 1.6 0.7 1.6 -4 2.6 -5.7 -0.4 -1.7 1.1 1.3 -2.2 -6.1 -1 -0.4 2.8 -0.9 -2.6 -1.9 1 -1.6 1.4 -4 -3.2 -1.6 0 -5 -1.2 -0.9 -0.2 -2.6 -0.9 -4.6 -1.1 -0.4 1.2 -5.6 -1.6 -0.9 -3.2 -3.5 2.7 -2.3 -1.9 -2.2 -3.5 -2.7 0.2 -0.8 -2 -2.9 1.2 -3.9 -1.3 -0.7 -2.9 -2.1 -0.7 -0.1 -3.6 -4.1z"/>
<path fill="#1a1a1a" d="M1739.4 527l3.9 -2.8 1.7 1.1 0.5 -1.9 1.7 -2.8 3.6 -0.1 -1.8 -3.3 4.7 -4.4 1.6 -0.1 0.2 -2.3 3.5 -1.3 2.5 -3.4 1.4 2 4.4 -0.5 2.7 0.3 3.4 -1.6 -0.2 -0.5 3.9 -1.6 1.2 -3.5 4 -1.2 0.1 -2.7 2.2 -1.9 0.1 -3.1 0.2 -2.2 -3 -2.5 -3.4 -2.2 1.6 -2.1 -0.6 0 -1.9 -6.1 3.3 0.4 2 -0.4 2.4 -3.7 2.4 -1.3 1.6 -4 3 -0.8 1 -2.4 2.8 1.9 0 -3.3 0.7 -4.2 2 3.3 1 2 5.3 2.5 3.8 3.1 -2.9 3.1 0 1.3 -3.3 2.4 2.2 5.1 -1.9 0.9 0.9 3.8 -2 3.1 3.7 1 -2.3 1.4 0.7 1.7 2.6 1.6 1.2 2.7 2.1 2.4 -0.6 3.6 2.8 1 -0.5 3.1 2.4 3 0.1 -0.2 0.6 5.6 -2.6 3.1 -3.6 3.4 -2.6 1.9 -0.1 1.6 -0.7 1.2 -0.7 1 -1.3 -0.7 -2.7 3.1 0.3 -2.3 -4.1 0.3 -1.3 2.1 -4.5 1.1 -1.5 0.5 -4.5 -3.8 -0.8 0.4 -1.1 3.2 -3 -0.2 -3.4 2.5 -3 -4.3 -1.9 0.2 -3.4 -0.5 -1.4 2.2 -3.8 -3.2 -2.2 2.3 -3.3 -2.5 -3.4 3.2 -2.8 -0.5 -5.5 -1.2 1.4 -0.3 -0.4 -2.4 -2.8 2.3 -5.6 -0.7z"/>
<path fill="#1a1a1a" stroke-width="5" d="M1808.6 514.8l1.2 -1.5 2.4 -1.3 0.7 -0.4 1.7 -1.8 2.7 -2.6 1 -2.7 1.7 -2.1 1.9 -0.3 1.9 -4 -1.3 -2.4 1.3 -0.7 4.4 -3.8 0.3 -2.1 0.5 -2.6 3.5 2.6 0.2 -3.5 2.7 -2.8 3.5 0.6 2.1 -4.1 1.9 -1.9 0.4 -0.6 3.4 -1.4 1.6 0.4 3.7 -1.9 2.5 -1.6 2.8 -0.4 -0.1 -1.1 4.7 0.8 0.4 -1.7 0.2 2.1 1 2.5 2 2.2 -1.4 3.8 -3.5 -0.9 -4.1 2.4 1.1 1.4 -2.8 -0.3 -3 3.2 -3.4 0.3 1 2.6 -3.6 3.6 1.6 0.7 -3.8 0.8 -1.6 2.3 -0.2 0.5 -0.9 4.2 -1 1.4 -3.6 2.4 -1.9 3.4 -0.8 0.3 -2 3.6 -0.7 2.9 -3.5 0.6 0.9 2.8 -2.6 1 0.7 3.5 -0.7 -0.4 -2.8 3.2 -1.4 1.9 -1.5 1.1 -2.9 -4.1 -0.9 -2.7 -1.1 -1.9 -3.1 -0.8 -1.9 -1.7 -1.2 -2.8z"/>
<path d="M1742 526.8l1.2 -4 1.7 -2.8 2.5 -2 1.5 -2.2 3.2 -2.9 0 1.4 0.5 -4.6 4.5 -0.2 5.8 -0.4 1.7 -2.4 1.3 -0.1 1.8 -2.7 1 0.7 3.4 -1.5 -0.9 -1.9 2.1 -1.8 1.6 1 2.9 -4.7 1.9 -2.7 2.1 -3.2 -1.6 -1.1 3.6 0.1 -1.9 -1.3 -1.8 -3.6 -2.9 -1.5 -1.1 -1.2 2.1 -1.8 0.3 -1.5 -1.1 -1.5 3.9 -1.4 1.5 -1.2 0.8 -2.3 -0.9 -1.6 2.2 -2.1 5.3 -0.7 2.3 -0.8 2.6 -2.6 3.4 -1.1 4.6 -0.4 0.5 -1.1 0.5 5 -0.3 0.3 1 2.5 -0.3 0.8 2.6 2.1 0.9 1.8 0.4 2.7 -4.4 5.1 0.1 0.3 -1 4.8 -2.5 1.9 0.7 2.8 0.4 1.1 -1.8 5.2 4.3 0.9 1.2 3.1 1.5 2.5 0.3 1 2.3 2.5 1.6 1.5 0.5 3.5 2.2 0.5 -4.8 2.6 -0.1 1.4 -3.1 2.8 0.5 2 -3.3 1.1 -3.1 4.2 -0.5 1M1814.6 512.6l0.2 0 2.8 -1.7 1.1 -1.1 3 -5.3 1.3 1.2 2 -2 0.1 -4.8 1.9 2.3 2 -6.6 0.6 -0.9 1.1 -2.6 -0.9 -1.5 4.2 -4.2 0.9 -0.5 5 -3.9 0.1 0 3.1 0.5 2 -4 2.4 -2.3 1.8 3.4 1.9 -2.3 4.8 -2.7 -1.4 1.9 4.4 1.5 3.9 -2.5 2 -2.6 0.3 0.2 3.6 -2.2 0.5 -0.3 4.5 0.2 0.7 1 3.1 -0.9 1.6 0.6 4.2 -1.2 3.5 1.4 1.4 -1.4 2.9 0.3 5.8 -0.6 -0.6 -1.4 3 -0.3 2.4 -0.8 3.2 -0.9 1.3 -2.2 3 0.3 3.3 -0.9 0.8 1 5.4 0.4 0.3 -2.6 1.7 0.2 3.4 -0.8 2.7 1.6 -0.8 -0.5 5.2 -1.3 1.8 -1.6 4.7 1.1 2.2 1.5 1.6 -3.1 2.3 0.4 4.4 -0.4 2.2 -0.7 2.2 2 3.3 -2.9 3.4 -1.3 3 0.4 1.6 2.2 2.5 1 4.2 -3.6 2 1.7 3 -2.1 2.5 -0.7 0.8 1.8 2.6 -2.7 1.3 1 5.3 0.2 0.7 -2.2 2.3 1.9 0.9 0.2 2.5 -1.2 4 0.2 3.6 1.2 2.6 -3 1.3 -0.7 1.4 -0.7 4.8 -0.1 0.7 0.1 0.5 -1.6 4 -1.7 1 0.6 2.8 -2.5 1.4 -0.7 2.1 -1.3 3.9 -3.5 1.7 1.6 5.3 -1.4 3.2 -0.1M1946.4 468.1l2.2 -0.2 -3 2.5 -0.6 5.3 -1.9 -0.8 2.5 3.6 0.8 2.5 -1.1 3.3 -2.9 1.7 -1.3 3.5 -4.4 0.3 -1.7 0.8 -0.9 4.8 -0.8 2.3 -2.3 -0.5 -3.6 5.9 1.1 -0.4 -2.5 4 -0.8 3 -2 0.1 0.9 3.6 -2.9 0.8 -2 0.3 -2.2 0.4 -2.8 3.4 0.6 0.5 -0.9 2.6 -3.8 1.1 -3.1 2.2 -1.2 0.9 -0.2 0.6 3.8 1.3 3 -2.7 2 2.6 3 0.4 5.4 1.2 0.7 1.5 -1.9 4.2 -0.3 1.7 2.1 1.6 0.4 5.7 0 -1.2 -2.3 1 -2.9 2.7 -2.6 0.9 1.2 1 -4.2 3.1 -3 -0.4 0.8 2.4 -4.7 1.4 -1.4 1.2 0 3.1 -2.6 -1.6 -4.1 2.4 -1.8 -1.4 -2.1 2.3 -2.4 -1 -1.8 1.7 -2.1 -0.7 -5.9 -0.3 0.5 4.5 -1.5 0.9 -3.3 1.9 -1.6 3.2M1903.7 524.1l-2.3 0.7 -1.2 1 -0.8 1.1 -4 0.7 0.2 1 -4.5 2.4 -1.6 -0.8 -2.3 4.2 -1.8 -1.1 -2.3 1.4 -3 3.2 -4.1 -1 0 1.9 -4 0.6M1861.2 605.6l3.2 -0.1 0.7 -0.4 3.8 -0.7 2.1 -0.5 2.5 -2.8 1.2 0.8 1.3 -2.7 6.7 1.6 1.3 -1 1.9 -1.9 2.6 0.9 3.1 -0.9 2.3 -1.2 2 -2 2.9 -0.6 3.3 -0.3 1.3 1.1 2.2 -1.6 2.1 0.1 2.8 -0.9 2.6 -0.7 3.2 -1 0.4 -1.1 4.3 -0.9 1.5 1.7 2 -1.9 3.6 -1.4 3 -2.6 1.2 -0.4 3.1 -1.7 1.8 -0.4 3.9 -2.5 0.9 1.7 0.8 -1.2 3.5 0.4 2.2 -0.3 2.6 0.8 2.2 4.1 3.6 -0.9 3.4 1 2.6 -2.5 3 -0.5 0.5 1.5 2.1 -1.7M1865.5 615.8l1.6 -1.2 2.7 -0.7 3.7 -1.4 0 -2.1 4.9 1.4 1.2 -1.2 2.2 0.6 1.5 -0.9 5 -3.8 2.6 0.2 -0.7 1.7 5.6 -4.6 0.6 0.9 1.9 -0.9 3 -0.3 -0.2 2.7 2.3 -0.6 6 -0.1 -0.9 0.4 4.2 -0.2 3.7 3.7 2.1 -3.3 3.4 1.7 0.9 2.1 3.1 -1.8 3.5 0.6 1.2 2.9 2.8 -2.7 3.6 1.8 1.7 0.9 3.2 -1 3 1.9 5.7 -1.7 1.3 1.6 2.3 -1.4 0 0.9 1.2 2.5 3.6 1.7 2.6 -1.4 1.4 3.9 0.9 2.9 2.6 -2.2 2 5.7 0.2 -0.3 2.6 2.2 2.9 2.2 3 1.5 0.1 -1.6 4 2.7 1.5 0.8 3 2.2 1.3 0.8 2.4 0.9 2 0.1 3.3 3 -2 0.5 7.3 -0.8 1.7 -0.1 2.1 0.8 1.8 3.5 4.2 1.1 -0.1 0.4 4.7 0.8 1.7 2.9 0.1 0.1 2.5 1.9 1.2 0.4 2.8 4.4 3.7 2.3 3.2 1.4 2.6 0.8 -0.5 -0.1 1.6 2.9 5 -0.4 0.7 2.5 -0.1 -1.6 2.1 3.9 3.6 -0.3 -1.1 4.3 3.6 3.4 0 0.9 5.8 1.3 -2.9 2.7 2 0 0.8 2.9 4 1.7 -2.2 3.5 -2.7 1 -0.7 2.7 -1.4 1.4 -0.5 3.1 -3.3 -4.3 -1.7 0.6 -2 -4.2 -2.4 -1.9 -1.8 -2.5 -1.3 0 -1.5 -2.5 -2.5 0.7 -3.6 -4.6 -1.1 1.6 -1.6 -3.2 -4.1 -0.5 -0.2 0.7 -3.2 -1.5 -3.4 1.6 -2.4 0.6 -2.5 -1.3 -3.1 1.6 -2 -1.3 -4.3 0.1 -0.7 2.7 -3.1 -3.7 -2.1 2.3 -1.7 -2.8 -2.8 1.3 -0.6 -2.8 -2.6 1.1 -5 0.6 -1.2 -0.2 -3 1.7 -2.9 -1.9 -3.2 0.4 -2.5 -0.7 -1.9 -1.5 -1.6 2.7 -5.4 -1.2 -0.3 -0.7 -2.8 -0.4 -0.8 -1.3 -6.5 -0.1 -1.9 1.1 -1.5 -2.2 -3.2 0.2 -0.5 -1.1 -3.1 -2.7 -2.4 3.8 -1.6 -1 -3.4 0.4 -0.7 -5.5 -3.9 5.1 0.7 -0.3 -6.1 -0.3 -4.5 3.2 -1.9 0 -2.3 2.6 -2.9 -0.9 -1 0.2 -3.1 2.5 -3.2 1.1 -3.2 1.7 -0.8 2.8 -4.4 -2.1 -2.8 2.5 -2.7 0.9 -0.8 -0.4 -3.7 -0.2 -1.4 3.8 -4.5 1.4 -2 -0.4 -2.4 0.3M1947.5 610.1l1.4 5.4 -0.3 -0.2 3.1 5.4 -2.2 0.9 1.5 2.7 1.9 2.9 2.5 2 -1.8 3.8 -2.6 1.1 1 4.7 -2.4 -0.5 -1 6 -2.4 -2.5 -5 1.1 0 -0.3 -2.4 3.9 -1.4 -1 -4.7 0.7 -0.5 -1.2 -3.4 -1.2 -1.6 1 -6.5 -2.5 2.2 0.1M1877.6 640.6l5.1 0.2 3.5 -1.3 -1.1 0.5 3.9 -1.7 3 0 4.1 -1.5 2.8 1.9 1.6 -0.1 2.1 -1.4 3.9 0.6 0.3 1 1.6 -2.5 2.4 1.4 2.9 1.2 2.7 0.7 1.5 1.2 4.3 0.3M1863.1 727.3l4.3 1.1 0.3 -1.5 3.4 -2 0.6 -0.7 3 -2 1.9 -0.3 1.2 -3 1.7 -3 -0.3 1.6 4.4 -3.5 1.5 -0.5 5.1 -1.8 1.5 -2.1 3.5 -1 0.2 -1.5 2.6 -1.9 3 -1.1M1868.5 744.4l2.2 -0.3 4.3 2.4 1.9 1.5 4 2 2.6 0.6 -2 0.2 4.2 2.7 1.2 1.4 5.2 1.7 2.5 1.6 1.9 -0.6 -1 -0.4 4.3 2.4 2.7 -1.8 4.3 4.5 1.2 -2.2 2.3 3.6 4.3 -3.2 4 1.7 1.9 4.2 0.2 0.1 3.6 1.4 1.9 0.1 4.2 1.9 2 1.4 3.3 -1.3 0.7 2.2 1.2 -0.5 5.6 3.1 0.1 1.8 5 -0.2 -0.1 0.6 2 0.4 1.8 2.7 1.5 -1.2 4.6 1.7 1 -0.8 0.7 2.6 6.5 1.6 0.7 0 2.9 1.1 3.4 2.1 3.3 -1.5 2.6 0 3.6 0.4 2.4 -0.1 2.3 -0.8 2.8 -2.3 2.8 0.8 1.4 2.8 1.2 -4.9 3.2 -1.5 1.4 1.1 3.4 3 0.8 1.6 6.5 -1 1 0.1 2.7 1.9 0.4 4.1 2.8 -0.4 0.6 2.3 4.3 3.9 -0.4 2.7 3.2 1.1 2.2 -1.1 3.9 0.7 -0.3 2.2 4.6 3 1.9 0.3 -1.1 -0.1 -1.1 4.2 2.5 2.6 -2.2 1.6 2.2 4.4 1.5 1.2 -0.7 4.2 3.3 0.8 0.7 2.2 1.3 5.7 2.8 -0.1 0.3 5.5 -0.9 2 0.3 1.3 1.9 0.8 -3.1 8.2 2.1 -0.5 -1.1 -0.2 0.9 4.4 -0.5 0.9 -0.2 3.7 2 1.3 -2.6 2.9 1.3 4.9 -2.5 2.5 -0.4 -0.8 0.9 4.5 1.5 1.9 -2 4.1 2.2 2.9 -2.2 1.6 2.5 0.6 1.8 -1.7 0.4 4 4.3 0.6 2.9 2.7 2.1 1.8 1.6 2.9 3.3 2.5 0.8 1.5 3.2 2.5M1861.6 763.1l0.6 3.2 1.8 1.9 2.6 1.3 2.3 0.2 1.8 2.7 0.8 0.5 1.7 -0.5 4.5 2.5 2.4 0.4 1.7 7.8 0.6 2.5 2.5 -0.7 2.4 2 0.9 1.3 4.7 0.9 0.1 5 4.6 -0.6 1.8 0 0.4 0.9 3 -0.3 5.4 4.1 -1.5 -0.4 2 3 2 1.1M1801 836.7l2.4 3.3 1.6 -2.3 2.9 1.4 2.7 0.6 3.2 1 0.1 1.5 2 0.1 3.9 -2.5 1.8 3.1 1.6 -2.8 2.7 6.5 3.1 -0.8 5.7 0.1 0.9 2.7 5.2 0.5 0.8 -0.7 3.3 0.3 0.4 1.4 4.4 1.7 1.4 -1.5 2.4 0.6 5.5 -0.5 1.9 0.7 3.7 1 1.2 -2.4 4 2 1 -1.8 2.9 -1.6 1.3 0.1 6.4 -1.7 -1 1.5 5.3 0.6 1 2.9 2.5 -0.5 2.2 1.9 2.4 1.2 2.1 0.6 4.2 0.6 1.9 1 1.8 -1.1 3.3 1.9 3.7 2 1 -3.3 3.8 3.1 2.7 1.5 4.2 -0.4 2.3 -2.8 3.2 -1.4 3.5 0.8 3.6 -3.6 -0.6 0.8 4.8 1.8 0.5 -0.2 1.7 1.1 4.5 1.9 1.5 0.6 2.3 1.3 4 0.7 -0.1 -2.9 -1.5 -1.8 6.7 -1.4 3.2 -2.3 1 2 -0.1 -2.2 2.5 -1.5 3.8 2.2 3 0.8 0.1 1 2.6 -1.5 1.5 2.8 3.8 -0.6 3.4 3.8 0.9 -1.7 3.9 -0.8 2.5 0.7 -0.1 -0.8 3.2 2.6 2.9 3.2 4.4 -0.1 1.3 -2.5 0.9 -2.4 0.2 -1 -1.8 -3.6 2.9 -1.7 2.4 -3.2 0.7 -0.3 4.4 -2.5 0.9 2.8 2.2 -1.1 3.4 4.4 2.4 -0.5 -2 4.3 4.5 0.5 1.2 5.1 -0.8 -1.3 0 3.8 0.5 3.3 1.9 2.5 1.5 2.7 -1.2 1.5 0.2 4.6 1.8 1.7 0 1.7 1.3 5.3 5.3 -1.7 1.4 1.4 1 2.2 2.1 -3.3 2.8 2.2 1.2 -0.2 1 5.7 3.4 2 -0.2 1.6 2.6 2.7 2.3 1.4 1.6 -0.4 3.8 -0.3 2.5 0.5M1830.4 815.9l2.8 1.6 -0.8 -0.9 4.7 1.5 4.4 0.4 1.1 -0.8 1.7 0.3 3 4.4 0.8 0.9 5.6 2.7 0.9 0.1 2 1.3M1579 606.7l-0.1 1.1 3.2 2.4 3.2 -1.5 2.6 2.6 -3.3 1.3 0.3 3.2 -2.3 1.5 -1.4 2.3 2.9 2.6 4.2 3 0.9 0.9 1.8 3 0.8 -0.8M1592.8 702.7l-0.6 3.8 -3.8 3.1 -1.2 1.4 -2 0.8 0.9 4.7 0.7 1.2 4.6 0.5 0.5 1.2 3.4 3.2 1.2 -0.2 2 3.8 -0.5 -0.1 4.8 2.7 2.1 4.3M1640.2 550l-0.4 -0.5 -0.2 -1.5 -2.5 -3.2 -0.8 -3.8 1.5 -1 -1.2 -1 1.4 -3.9 0.2 -1.8 3.2 -2.1 1.5 -0.7 2.3 -2.8"/>
</g>
<path fill="#fff" d="M1870.6 579.2l4.2 2.2 3.8 3.9 3 0.9 4.6 2.9 2.9 2.5 3.8 3.4 -4.2 2 -4.4 4.3 -1.8 -1.8 -4 -0.9 -5.4 -1 -1.8 0.9 -4.1 -3.1 1.8 -4.2 1.5 -3.2 0.9 -3.5 0 -4.5zM1878.3 722.8l5.6 -2.2 2.4 -2.9 4.3 -1.9 0.9 -0.7 5.1 -1.8 2.5 -1.8 0.4 4.3 -1.5 1.7 -0.9 5.3 0.8 2.4 -1 3.7 -3.4 2.4 -4.3 2.9 -1.3 3.5 -2.8 2.2 -5.1 2.9 0.5 -3.8 0.5 -4.2 -0.4 -4.8 -2.8 -3.7 1.3 -3.7zM1889 768.6l4.1 -0.4 4.7 2.1 2.3 0.1 6.5 0.7 3.5 2.5 5.8 -0.4 -2.5 3.1 -3.3 2.5 -1.8 4.7 -3.5 2.2 -1 -2.2 -6.2 -0.7 -2.2 -0.8 -4.4 -2 -2.7 -0.3 1.8 -2 -0.5 -5.3 0.1 -3.3zM1867.3 811.3l4.9 -0.5 2.6 -0.2 3 -0.5 2.2 -2.3 4.9 2.4 4.9 -2.2 2.5 5.1 3.2 1.4 3.6 2.6 1.7 2.4 -3.2 6 -2.8 1.3 -6.4 2.8 -1.2 2.4 -6.6 2.4 -2.6 1.5 -3.7 -3.7 -3.1 0.8 -3.6 -3.3 -1.8 -0.5 -0.5 -1.9 0.7 -3 0.5 -5.5 -0.1 -4 1.5 -3.8zM1832.2 521.2l3.5 -0.5 3.7 -2 3 -2.8 3.9 -2.4 3.2 -0.8 3.2 0.2 2.8 1.7 4.5 0.2 4.1 2.6 -3.3 3 -2.8 2.7 -3.5 0.4 -3.9 1.1 -3.1 5.3 -3.1 -1.8 -4.1 1.9 0 0.6 -5.6 1.9 -0.8 -4.4 -0.3 -2.8 -1.6 -4.4zM1881.2 547.2l3 1.8 5.5 1.1 3.7 1.5 -3.9 2.6 -2.7 2.4 -2.4 3.9 -1.7 -3.6 -1.4 -5.4 -1.7 -3.1zM1650.8 791.1l3.8 -0.6 2.4 1 4 2.8 5.4 -1.1 2.1 0.7 -2.2 4.2 -3.5 3.8 -0.7 3.4 -5.2 -3.7 -1.3 -1.8 -0.2 -3.6 -2.9 -3.5 -2.1 -2zM1700.2 806.4l4.5 0.1 3.6 3.7 4.2 0.7 3.8 -1.2 -2.4 4.7 -3.1 3.2 -3.8 3.4 -1 -4.4 -1.7 -3.5 -2.5 -3.3 -1.2 -3.1zM1771.7 811.4l3.9 1.1 3.1 2.8 2.6 -1.1 4.4 3.6 3.8 0.3 -1.8 3 -1.6 1.4 -5.2 3.2 -1.3 -2.5 -2.1 -2.6 -3.3 -3.6 -0.4 -1.4 -3.8 -3zM1722.6 789.1l4.1 2.1 2.9 1.2 1.8 2.3 4.6 1.7 4.3 2.1 1.6 4.3 2.9 0.8 -5.1 1.5 -1.8 3.7 -4.6 -5.4 -0.9 -1.4 -5.4 -1.9 -3.1 -2.2 -1.4 -2.2 -3.1 -1.8 2.8 -3.3zM1790.5 795.5l3.2 3 4.7 0.5 2.2 0.3 4.3 2.7 2.6 3.7 4.6 1.6 -2.5 1.4 -4 3.2 -4.1 -4.8 -2 0.9 -3.1 -4.9 -3.3 -1.7 -4.5 -0.8 -1.4 -1.7 2.7 -3.4zM1822.5 774.8l3.6 3.5 2 -1.6 3.8 3.1 2.7 0.8 5.5 3.5 2.4 1.8 4.2 4.8 -3 2.1 -1.8 0.8 -3 -2.5 -3.9 -2.7 -3.9 -1.9 -4 -3.3 -4.3 -2.3 -2.2 -0.9 2.8 -7.6zM1694.7 817.6l4.4 -0.8 3.7 2.6 3.9 3.5 1.8 3 3.2 2.6 2.1 3.2 -6.1 2.4 -2 -1.9 -2.2 -3.3 -4.9 -3.4 -2.9 -1.7 -2.5 -4.3 2.3 -3.1zM1838.6 639l2.3 -1.5 4.2 0.9 4.6 -1.8 -0.6 2.5 2.7 5.2 3.8 0.7 -1 5.1 -1.7 1.9 -4.6 1.6 -2.1 0.8 -1.2 -4.8 -3.6 -1.6 -2.8 -4.6 -1 -1.9zM1845.8 699.9l5 2.1 2.9 0 4.4 2.2 -2.1 4.2 0.1 5.1 -2.3 2.2 -3.3 -1.2 -2.4 0.2 -2.6 -1.8 -0.6 -5.7 -0.7 -3 1.7 -5.3zM1823.6 599.5l2 -2.2 3.4 0.1 5.5 -1.5 -0.5 4.1 0.8 3.7 2.6 4.3 -3.1 0.7 -3.5 1.7 -2.9 1.1 -2.4 -3.8 -1.3 -6.4 -2.6 -1.4z"/>
<path fill="#fff" stroke="#fff" stroke-width="2.2" stroke-linejoin="round" d="M1823.1 823.9L1829.6 829.9L1839.2 831.2L1832.6 825.2zM1651.8 747.7L1658.5 754L1666.8 755.8L1661.9 749.6zM1711.6 851.5L1717.1 860L1724.7 862.2L1718.4 856zM1765.5 804.2L1769.3 809L1774 811L1770.1 804.5zM1651.1 751.3L1651.7 756.3L1658 754.4L1654.1 750.6zM1733.4 815.4L1733.3 820.6L1737.6 824.7L1736.4 818.4zM1669.2 792.9L1675 799.2L1681.1 805.9L1677.5 797.9zM1752.9 822.6L1756.5 828.5L1761.3 832L1758.4 824.8zM1606.7 759.8L1615.3 762.6L1622.3 759.3L1615 756.5zM1759.6 809.9L1765.5 817L1771.6 820.8L1766.7 814.7zM1691 842.2L1694.9 845.8L1702 843.1L1697 839.5zM1612.7 752.4L1615.7 754.8L1618 758.1L1616.1 754.6zM1753.8 797L1758.9 801L1764.9 803.4L1760 798.5zM1835.7 834.1L1844.4 834.9L1851.4 829.9L1844.5 828.5zM1679.3 774.1L1686.2 777.9L1694.1 780.7L1687.7 775.5zM1760.7 820L1766.1 823.9L1773.8 823.3L1766.7 819.4zM1695.9 800.4L1701.1 804.6L1710.3 807.1L1703.2 802.5zM1645.2 761.1L1654.1 766L1660.8 765.9L1655.4 760.5zM1830 593.1L1834.6 597.9L1843.5 597.4L1839.1 592.5zM1815.7 647.3L1821.7 647.3L1827.4 642.3L1820.7 643zM1875.7 690.5L1881.8 690.3L1889.1 687.7L1880.4 688.1zM1872.1 782.6L1878.6 786.8L1885.4 785.3L1879.1 781zM1835.3 575.6L1841.3 574.5L1842.7 571.9L1837.8 571.7zM1860.8 733.6L1867.8 735.5L1871.1 731.6L1865.6 729.9zM1864.6 571.8L1870.3 575.7L1877.2 574.3L1872.3 570.3zM1881.4 560.6L1886.3 563.9L1893.8 562L1886.2 558.6zM1889.6 703.4L1896.8 704L1901.7 701.8L1894.7 700.9zM1835 646.3L1832.3 654.2L1834.1 658.6L1836.8 652.7zM1820.7 576.1L1827.4 579.6L1835.3 579.3L1829.1 575.7zM1885.7 649.8L1891.6 652.2L1898.3 650.9L1892.8 648.5zM1889.6 707.5L1896.5 710.5L1900.3 708.7L1895 705.7zM1844.8 554.8L1847.4 556.9L1851.8 555.2L1846.5 553.1zM1888.2 692.8L1891.7 693.4L1896.3 691.8L1892.1 691.1zM1845.3 794.4L1851.7 790.2L1855.2 782.1L1847.9 787.5zM1603.5 619.9L1608 615.4L1608.9 612L1604.1 613.5zM1677.4 591.7L1678.7 595.7L1684.1 595.3L1680.2 592.5zM1767.9 576.6L1773.9 578.7L1779.6 577.7L1775.8 575.6zM1696.6 561.9L1702.3 561.8L1707.1 556.9L1699.4 558.6zM1807.1 585.2L1811.4 582.9L1814.2 578.9L1810.7 582.5zM1755.3 578.9L1757.8 579.3L1760 575.1L1756.9 576z"/>
<path fill="#E8801A" d="M1831.7 700.8h10.6v10.6h-10.6zM1844.8 700h10.6v10.6h-10.6zM1856.1 687.8h10.6v10.6h-10.6zM1849.4 726.2h10.6v10.6h-10.6zM1856.3 716.8h10.6v10.6h-10.6zM1860.7 710.1h10.6v10.6h-10.6zM1859.8 741.2h10.6v10.6h-10.6zM1850 747.9h10.6v10.6h-10.6zM1840.3 757h10.6v10.6h-10.6zM1838.9 768.1h10.6v10.6h-10.6zM1817.2 705h10.6v10.6h-10.6zM1815.8 693.2h10.6v10.6h-10.6zM1873.6 569.9h10.6v10.6h-10.6zM1865.3 576.1h10.6v10.6h-10.6zM1850.1 559.2h10.6v10.6h-10.6zM1844.3 680.8h10.6v10.6h-10.6zM1842 688.6h10.6v10.6h-10.6zM1832.8 708.3h10.6v10.6h-10.6zM1831.4 716.4h10.6v10.6h-10.6zM1835.7 725.4h10.6v10.6h-10.6zM1855.3 616.4h10.6v10.6h-10.6zM1844.8 607.9h10.6v10.6h-10.6zM1835.7 602h10.6v10.6h-10.6zM1843.3 612h10.6v10.6h-10.6zM1847.3 603.2h10.6v10.6h-10.6zM1839 587.8h10.6v10.6h-10.6zM1829.2 591.5h10.6v10.6h-10.6zM1844.5 733.1h10.6v10.6h-10.6zM1845 741.1h10.6v10.6h-10.6zM1844.1 751.2h10.6v10.6h-10.6zM1856.2 752h10.6v10.6h-10.6zM1830.3 669.5h10.6v10.6h-10.6zM1837.8 666.9h10.6v10.6h-10.6zM1846.7 657h10.6v10.6h-10.6zM1878.5 617.6h10.6v10.6h-10.6zM1874.1 675.9h10.6v10.6h-10.6zM1865.4 678.9h10.6v10.6h-10.6zM1867 688.1h10.6v10.6h-10.6zM1843.4 743.1h10.6v10.6h-10.6zM1846.1 751.5h10.6v10.6h-10.6zM1837.7 754.8h10.6v10.6h-10.6zM1839.8 765.4h10.6v10.6h-10.6zM1858.1 712.9h10.6v10.6h-10.6zM1852.3 707.4h10.6v10.6h-10.6zM1818.1 665.5h10.6v10.6h-10.6zM1813.6 659h10.6v10.6h-10.6zM1887.7 693.3h10.6v10.6h-10.6zM1854.9 657.4h10.6v10.6h-10.6zM1846.1 652h10.6v10.6h-10.6zM1841.5 642.8h10.6v10.6h-10.6zM1846.3 630.9h10.6v10.6h-10.6zM1852.1 638.2h10.6v10.6h-10.6zM1878.8 569.1h10.6v10.6h-10.6zM1880.2 684.3h10.6v10.6h-10.6zM1887.7 675.4h10.6v10.6h-10.6zM1838.5 661.3h10.6v10.6h-10.6zM1861.8 708.9h10.6v10.6h-10.6zM1871.3 702.4h10.6v10.6h-10.6zM1881.8 700.4h10.6v10.6h-10.6zM1873.7 580h10.6v10.6h-10.6zM1877.1 572.2h10.6v10.6h-10.6zM1864.2 729.3h10.6v10.6h-10.6zM1855.6 722.1h10.6v10.6h-10.6zM1853.7 712.1h10.6v10.6h-10.6zM1863.7 711.5h10.6v10.6h-10.6zM1812.4 592.9h10.6v10.6h-10.6zM1688 535.2h10.6v10.6h-10.6zM1687.5 526h10.6v10.6h-10.6zM1657 532.5h10.6v10.6h-10.6zM1647.3 516h10.6v10.6h-10.6zM1618.6 576.1h10.6v10.6h-10.6zM1621.2 535.4h10.6v10.6h-10.6zM1664.2 538.9h10.6v10.6h-10.6zM1671.4 551.4h10.6v10.6h-10.6zM1633 529.7h10.6v10.6h-10.6zM1629 572.9h10.6v10.6h-10.6zM1618.5 546h10.6v10.6h-10.6zM1618.5 554.7h10.6v10.6h-10.6zM1607.5 555.3h10.6v10.6h-10.6zM1649.4 539.7h10.6v10.6h-10.6zM1708.7 530.5h10.6v10.6h-10.6zM1715.8 539.5h10.6v10.6h-10.6zM1612.9 566.3h10.6v10.6h-10.6zM1697.9 550.8h10.6v10.6h-10.6zM1670.5 538.4h10.6v10.6h-10.6zM1671.6 549.5h10.6v10.6h-10.6zM1670.4 558h10.6v10.6h-10.6zM1626.5 554.5h10.6v10.6h-10.6zM1605.7 570.6h10.6v10.6h-10.6zM1633.8 528.2h10.6v10.6h-10.6zM1663.7 529.1h10.6v10.6h-10.6zM1730 512h10.6v10.6h-10.6zM1625.4 549h10.6v10.6h-10.6zM1618.5 553h10.6v10.6h-10.6zM1632.8 543.3h10.6v10.6h-10.6zM1704.6 513.8h10.6v10.6h-10.6zM1706.4 517.7h10.6v10.6h-10.6zM1708.9 509.3h10.6v10.6h-10.6zM1689.6 520.5h10.6v10.6h-10.6zM1634.3 554.6h10.6v10.6h-10.6zM1776.9 530.3h10.6v10.6h-10.6zM1770.6 520h10.6v10.6h-10.6zM1744.6 540h10.6v10.6h-10.6zM1734.8 538.7h10.6v10.6h-10.6zM1662.9 556.6h10.6v10.6h-10.6zM1661.8 524.1h10.6v10.6h-10.6zM1635.7 552.1h10.6v10.6h-10.6zM1606.4 792.5h10.6v10.6h-10.6zM1709.2 854.1h10.6v10.6h-10.6zM1713.8 842h10.6v10.6h-10.6zM1725.7 838.9h10.6v10.6h-10.6zM1766.9 817.5h10.6v10.6h-10.6zM1764.6 806.3h10.6v10.6h-10.6zM1783.4 816.6h10.6v10.6h-10.6zM1769 801.8h10.6v10.6h-10.6zM1759.7 800.7h10.6v10.6h-10.6zM1750.3 806.5h10.6v10.6h-10.6zM1696.7 803.4h10.6v10.6h-10.6zM1756.3 831.6h10.6v10.6h-10.6zM1671.4 794.8h10.6v10.6h-10.6zM1715.5 801.7h10.6v10.6h-10.6zM1689 789.6h10.6v10.6h-10.6zM1745.8 853.5h10.6v10.6h-10.6zM1601 770.5h10.6v10.6h-10.6zM1646.7 761.4h10.6v10.6h-10.6zM1641.8 767.8h10.6v10.6h-10.6zM1626.8 740.2h10.6v10.6h-10.6zM1617.7 737.5h10.6v10.6h-10.6zM1767 826.3h10.6v10.6h-10.6zM1599.5 761h10.6v10.6h-10.6zM1626.8 785.7h10.6v10.6h-10.6zM1618.5 786.1h10.6v10.6h-10.6zM1718.7 786.8h10.6v10.6h-10.6zM1620 775.9h10.6v10.6h-10.6zM1741.3 843.5h10.6v10.6h-10.6zM1678.2 769.2h10.6v10.6h-10.6zM1688.4 770.1h10.6v10.6h-10.6zM1683.3 763.9h10.6v10.6h-10.6zM1712.2 851.7h10.6v10.6h-10.6zM1717.7 857.5h10.6v10.6h-10.6zM1598.7 740.1h10.6v10.6h-10.6zM1686.6 624.1h10.6v10.6h-10.6zM1691.5 615.4h10.6v10.6h-10.6zM1681.6 625.7h10.6v10.6h-10.6zM1693 612.1h10.6v10.6h-10.6zM1639.5 602.6h10.6v10.6h-10.6zM1705.4 759.9h10.6v10.6h-10.6zM1679.4 655.6h10.6v10.6h-10.6zM1706.1 563.9h10.6v10.6h-10.6zM1716.9 563.3h10.6v10.6h-10.6zM1655.8 711.8h10.6v10.6h-10.6zM1665.5 647h10.6v10.6h-10.6zM1655.4 655.3h10.6v10.6h-10.6zM1728.6 642.1h10.6v10.6h-10.6zM1715.9 637.2h10.6v10.6h-10.6zM1704.9 640h10.6v10.6h-10.6zM1757.1 707.8h10.6v10.6h-10.6zM1768.3 712.7h10.6v10.6h-10.6zM1775.2 721.9h10.6v10.6h-10.6zM1763.7 605.6h10.6v10.6h-10.6zM1762.9 619.6h10.6v10.6h-10.6zM1752.5 613.9h10.6v10.6h-10.6zM1679.8 576.7h10.6v10.6h-10.6zM1791.9 688.2h10.6v10.6h-10.6zM1796.7 623.8h10.6v10.6h-10.6zM1781.2 740.8h10.6v10.6h-10.6zM1774.6 587.4h10.6v10.6h-10.6zM1784.3 579.2h10.6v10.6h-10.6zM1788.9 614.9h10.6v10.6h-10.6zM1727.4 712h10.6v10.6h-10.6zM1736.8 712.1h10.6v10.6h-10.6zM1795.2 670.4h10.6v10.6h-10.6zM1798.8 699.8h10.6v10.6h-10.6zM1781.7 703.6h10.6v10.6h-10.6zM1771 697.8h10.6v10.6h-10.6zM1796.8 676.3h10.6v10.6h-10.6zM1644.7 616.6h10.6v10.6h-10.6zM1751.6 709h10.6v10.6h-10.6zM1740.8 705.2h10.6v10.6h-10.6zM1781.9 642.1h10.6v10.6h-10.6zM1803.3 635.9h10.6v10.6h-10.6zM1727.5 765h10.6v10.6h-10.6zM1723 753.3h10.6v10.6h-10.6zM1946 588.6h10.6v10.6h-10.6zM1936.6 586.9h10.6v10.6h-10.6zM1939.9 674.9h10.6v10.6h-10.6zM1950.6 683.2h10.6v10.6h-10.6zM1958 677h10.6v10.6h-10.6zM1918.5 614.1h10.6v10.6h-10.6zM1917.1 622.8h10.6v10.6h-10.6zM1924.3 630.1h10.6v10.6h-10.6zM1900.9 591.6h10.6v10.6h-10.6zM1901.3 602.3h10.6v10.6h-10.6zM1946.9 718.4h10.6v10.6h-10.6zM1908 684.7h10.6v10.6h-10.6zM1890 805.4h10.6v10.6h-10.6zM1897.6 795.4h10.6v10.6h-10.6zM1983.8 618.4h10.6v10.6h-10.6zM1968.6 613.5h10.6v10.6h-10.6zM1912.5 618.6h10.6v10.6h-10.6zM1922 627.1h10.6v10.6h-10.6zM1932.6 625.9h10.6v10.6h-10.6zM1494.2 623.1h10.6v10.6h-10.6zM1480 684.4h10.6v10.6h-10.6zM1545 600.7h10.6v10.6h-10.6zM1617.1 431.9h10.6v10.6h-10.6zM1720.4 436.4h10.6v10.6h-10.6zM2016.3 418.4h10.6v10.6h-10.6zM2030.1 435.1h10.6v10.6h-10.6zM2078.4 611.3h10.6v10.6h-10.6zM2000.5 525.1h10.6v10.6h-10.6zM2006 545.2h10.6v10.6h-10.6zM2052.7 681.1h10.6v10.6h-10.6zM2066.4 695.2h10.6v10.6h-10.6zM2097.2 874.4h10.6v10.6h-10.6zM2088.2 953.1h10.6v10.6h-10.6zM1712.7 877h10.6v10.6h-10.6zM1727.1 868.1h10.6v10.6h-10.6zM1731.5 861.2h10.6v10.6h-10.6zM1745.7 874.7h10.6v10.6h-10.6zM1756.7 843.6h10.6v10.6h-10.6zM1801.1 865.1h10.6v10.6h-10.6zM1925.4 819h10.6v10.6h-10.6zM1944.1 730.9h10.6v10.6h-10.6zM1599.1 804.7h10.6v10.6h-10.6zM1624.4 817.3h10.6v10.6h-10.6zM1611.5 465h10.6v10.6h-10.6zM1625.2 468.1h10.6v10.6h-10.6zM1635.5 457.3h10.6v10.6h-10.6zM1635.5 474.1h10.6v10.6h-10.6zM1629 494.7h10.6v10.6h-10.6zM1612 502.4h10.6v10.6h-10.6zM1655.3 463h10.6v10.6h-10.6zM1662.6 472.7h10.6v10.6h-10.6zM1652.2 497.3h10.6v10.6h-10.6zM1668.2 502.4h10.6v10.6h-10.6zM1653.5 510.2h10.6v10.6h-10.6zM1663.1 511.5h10.6v10.6h-10.6zM1665.7 519.2h10.6v10.6h-10.6zM1678.6 517.9h10.6v10.6h-10.6zM1707 515.3h10.6v10.6h-10.6zM1709.5 521.7h10.6v10.6h-10.6zM1688.9 528.2h10.6v10.6h-10.6zM1743.1 491.7h10.6v10.6h-10.6zM1741.7 517.4h10.6v10.6h-10.6zM1772 514.6h10.6v10.6h-10.6zM1798.6 514.1h10.6v10.6h-10.6zM1841.2 458.6h10.6v10.6h-10.6zM1837.3 493.9h10.6v10.6h-10.6zM1834.7 514.1h10.6v10.6h-10.6zM1834.7 526.4h10.6v10.6h-10.6zM1793.4 457.3h10.6v10.6h-10.6zM1937.3 446.2h10.6v10.6h-10.6zM1909.7 481.7h10.6v10.6h-10.6zM1872 491.3h10.6v10.6h-10.6zM1883.1 504.5h10.6v10.6h-10.6zM1900.7 501.9h10.6v10.6h-10.6zM1925.2 508.9h10.6v10.6h-10.6zM1944.2 561h10.6v10.6h-10.6zM1963.7 577.7h10.6v10.6h-10.6zM1962.6 589.4h10.6v10.6h-10.6zM1987.1 583.7h10.6v10.6h-10.6zM1943.2 601.3h10.6v10.6h-10.6zM1879.7 521.7h10.6v10.6h-10.6zM1879.7 532.7h10.6v10.6h-10.6zM1866.7 569h10.6v10.6h-10.6zM1971.3 643h10.6v10.6h-10.6zM1999.5 648.9h10.6v10.6h-10.6zM1941.2 659.7h10.6v10.6h-10.6zM1907.7 669.5h10.6v10.6h-10.6zM1947.7 678.6h10.6v10.6h-10.6zM1983 695.3h10.6v10.6h-10.6zM1928.2 685.5h10.6v10.6h-10.6zM1897.7 753.4h10.6v10.6h-10.6zM1914.7 768.9h10.6v10.6h-10.6zM1905.5 795.2h10.6v10.6h-10.6zM1874.1 847h10.6v10.6h-10.6zM1882.3 853.4h10.6v10.6h-10.6zM1942.4 855.2h10.6v10.6h-10.6zM1799.3 829.4h10.6v10.6h-10.6zM1818.4 831.5h10.6v10.6h-10.6zM1790.1 836.7h10.6v10.6h-10.6zM1830.3 847.7h10.6v10.6h-10.6zM1700.5 838.7h10.6v10.6h-10.6zM1601.7 594.7h10.6v10.6h-10.6zM1594.7 729.7h10.6v10.6h-10.6zM1606.7 742.7h10.6v10.6h-10.6zM1608.7 770.7h10.6v10.6h-10.6z"/>
<path fill="#E8801A" fill-opacity="0.85" d="M1854.2 649h10.6v10.6h-10.6zM1873.3 627.3h10.6v10.6h-10.6zM1859.7 721.4h10.6v10.6h-10.6zM1853.4 697.3h10.6v10.6h-10.6zM1870.8 559h10.6v10.6h-10.6zM1676.4 532.6h10.6v10.6h-10.6zM1700.1 518.5h10.6v10.6h-10.6zM1718.6 850.2h10.6v10.6h-10.6zM1692.9 794.7h10.6v10.6h-10.6zM1606.3 765.5h10.6v10.6h-10.6zM1735.1 855.5h10.6v10.6h-10.6zM1610.3 780.2h10.6v10.6h-10.6zM1613.2 771.3h10.6v10.6h-10.6zM1796.6 642.3h10.6v10.6h-10.6zM1664.9 657.8h10.6v10.6h-10.6zM1721.2 651.5h10.6v10.6h-10.6zM1790.9 644.2h10.6v10.6h-10.6zM1715.9 563.9h10.6v10.6h-10.6zM1902.3 601h10.6v10.6h-10.6zM1953.8 723.8h10.6v10.6h-10.6zM1916.4 679.6h10.6v10.6h-10.6zM1933.6 591.8h10.6v10.6h-10.6zM1737.7 405.3h10.6v10.6h-10.6zM2099.7 541h10.6v10.6h-10.6zM1861.3 945.7h10.6v10.6h-10.6zM1821.7 903.5h10.6v10.6h-10.6zM1614.9 888.7h10.6v10.6h-10.6zM1644.4 870h10.6v10.6h-10.6zM1915.7 873.1h10.6v10.6h-10.6zM1615.7 836.4h10.6v10.6h-10.6zM1632.1 821.2h10.6v10.6h-10.6zM1631.7 482.3h10.6v10.6h-10.6zM1667.5 492.1h10.6v10.6h-10.6zM1626.2 526.4h10.6v10.6h-10.6zM1610.2 554.1h10.6v10.6h-10.6zM1977.7 608.5h10.6v10.6h-10.6zM1896.7 588.9h10.6v10.6h-10.6zM1977.7 681.7h10.6v10.6h-10.6zM1927.7 766.7h10.6v10.6h-10.6zM1600.7 756.7h10.6v10.6h-10.6zM1616.7 784.7h10.6v10.6h-10.6z"/>
<path fill="#E8801A" fill-opacity="0.6" d="M1856.7 699.3h10.6v10.6h-10.6zM1818.8 716.3h10.6v10.6h-10.6zM1859.8 568.7h10.6v10.6h-10.6zM1849.5 595.3h10.6v10.6h-10.6zM1825.3 657.9h10.6v10.6h-10.6zM1826.8 648.2h10.6v10.6h-10.6zM1819.6 643.8h10.6v10.6h-10.6zM1646.8 548h10.6v10.6h-10.6zM1625.8 553.7h10.6v10.6h-10.6zM1632 561.2h10.6v10.6h-10.6zM1646.6 556.3h10.6v10.6h-10.6zM1662.1 566.5h10.6v10.6h-10.6zM1647 555.3h10.6v10.6h-10.6zM1644.5 811.5h10.6v10.6h-10.6zM1774 814.5h10.6v10.6h-10.6zM1728.6 835.5h10.6v10.6h-10.6zM1736.4 842.7h10.6v10.6h-10.6zM1604.9 777.2h10.6v10.6h-10.6zM1640.3 772h10.6v10.6h-10.6zM1630.1 765.6h10.6v10.6h-10.6zM1757.1 559.3h10.6v10.6h-10.6zM1695.3 569.3h10.6v10.6h-10.6zM1792.3 701.8h10.6v10.6h-10.6zM1709.6 652.8h10.6v10.6h-10.6zM1787.1 601.1h10.6v10.6h-10.6zM1639.9 629h10.6v10.6h-10.6zM1925.2 671.5h10.6v10.6h-10.6zM1416.2 623.7h10.6v10.6h-10.6zM1992.7 547.5h10.6v10.6h-10.6zM1680.3 863.3h10.6v10.6h-10.6zM1696.7 861.7h10.6v10.6h-10.6zM1768.9 861.2h10.6v10.6h-10.6zM1902.4 834.1h10.6v10.6h-10.6zM1663.2 849.7h10.6v10.6h-10.6zM1683.7 512.7h10.6v10.6h-10.6zM1821.7 525.7h10.6v10.6h-10.6zM1804.5 481.7h10.6v10.6h-10.6zM1926.4 464.2h10.6v10.6h-10.6zM1891.7 515.3h10.6v10.6h-10.6zM1954.7 600.5h10.6v10.6h-10.6zM1879.7 543.7h10.6v10.6h-10.6zM1959.7 646.3h10.6v10.6h-10.6zM1994.1 697.2h10.6v10.6h-10.6zM1912.7 749.5h10.6v10.6h-10.6z"/>
<path fill="#E8801A" fill-opacity="0.35" d="M1850.9 687h10.6v10.6h-10.6zM1873 610.9h10.6v10.6h-10.6zM1700.4 518.9h10.6v10.6h-10.6zM1730.4 527.7h10.6v10.6h-10.6zM1626 559.7h10.6v10.6h-10.6zM1652.3 814.6h10.6v10.6h-10.6zM1694.6 817.3h10.6v10.6h-10.6zM1650.4 776.1h10.6v10.6h-10.6zM1634.1 792.6h10.6v10.6h-10.6zM1699.5 855.2h10.6v10.6h-10.6zM1694.2 624.2h10.6v10.6h-10.6zM1779.1 680.5h10.6v10.6h-10.6zM1791.7 658.7h10.6v10.6h-10.6zM1923.3 582.3h10.6v10.6h-10.6zM1978.6 611.4h10.6v10.6h-10.6zM1694.2 401h10.6v10.6h-10.6zM1914.7 733.1h10.6v10.6h-10.6zM1933.9 780.1h10.6v10.6h-10.6zM1593.3 822.7h10.6v10.6h-10.6zM1610.7 800.2h10.6v10.6h-10.6zM1638.6 488.2h10.6v10.6h-10.6zM1696.7 532.7h10.6v10.6h-10.6zM1668.2 529.5h10.6v10.6h-10.6zM1861.7 487.5h10.6v10.6h-10.6zM1939.1 499.9h10.6v10.6h-10.6zM1986.3 596.1h10.6v10.6h-10.6zM1917.4 685.5h10.6v10.6h-10.6z"/>
<circle cx="1659.4" cy="607.5" r="37.9" fill="#35210F"/>
<circle cx="1647.7" cy="655.5" r="37.9" fill="#35210F"/>
<circle cx="1715.6" cy="742.7" r="37.9" fill="#35210F"/>
<text transform="translate(1659.4 634.7) scale(1 1.03)" font-size="75" fill="#E6E6E6" text-anchor="middle">S</text>
<text transform="translate(1647.7 682.7) scale(1 1.03)" font-size="75" fill="#E6E6E6" text-anchor="middle">S</text>
<text transform="translate(1715.6 769.9) scale(1 1.03)" font-size="75" fill="#E6E6E6" text-anchor="middle">S</text>
<circle cx="1644.6" cy="691.6" r="37.9" fill="#E5E5E5"/>
<text transform="translate(1644.6 718.2) scale(1 1.09)" font-size="72" fill="#1a1a1a" text-anchor="middle">A</text>
</g>
<g clip-path="url(#cp2)">
<g fill="none" stroke="#1a1a1a" stroke-width="7.4" stroke-linecap="round" stroke-linejoin="round">
<path fill="#1a1a1a" d="M3065.9 532.1l3.6 -0.5 2.4 -2.2 3.1 -0.7 4.2 -0.4 1 1.3 3.2 -3.4 4.6 4.2 3.2 -0.8 0.7 1.8 4.2 -1.4 -2.5 -1.4 4.5 -2.3 4.3 2.7 0.2 -1.6 7.8 0.3 -4.5 0.8 0.5 0.6 2.9 1.6 2.1 2.9 1 -0.6 2.7 3.1 4.3 -1.3 0.3 3.2 3.9 4.1 0.7 -0.6 2.2 0 6.3 -1 1.3 -0.9 -1.3 0.6 6 4.3 2.9 1.1 2.6 1.6 -1 -3.1 3.8 4.4 4.8 0.1 2.2 0.3 0.4 -3 5.4 2.2 3.5 2.4 1 -4.7 -2.6 -1.1 4.3 4.2 2 -0.4 4.5 2.5 0.6 0.6 -2.7 3.3 -0.6 5.5 -2.4 -1.3 2 -0.2 -2.7 2.9 0.6 3.6 -1.5 0 0 4.6 1.6 1.1 1 3.5 -3.5 3.4 1.8 0.4 -1 4.1 -4.7 2 0.2 1.5 2.1 5.5 -3.3 2.6 2 -2.6 0.7 3.6 -3.5 8.1 4.8 -1.9 -1.2 1.1 0.6 4.2 1.4 3.2 -0.9 -0.4 3.7 4.7 -2.2 1 3.3 3.9 -0.8 1.9 2.4 1.2 -1 5.6 0.9 1.4 1 3.3 -0.5 0 -0.7 5.1 0.2 0.9 1.3 0.9 -2.8 4.1 2.6 4.6 -2.6 0.4 0.6 1.5 1.3 -0.8 -0.4 8.5 0.2 -1.2 -3.7 5.2 2.7 4.2 -1.5 2.8 1 -2.2 1 4 0.7 8.7 -2.1 -1.5 -2.3 2 -0.1 3 2.3 -0.2 -3.6 6 0.9 3.5 1.2 0.4 2.1 1.8 0.8 0.8 3.5 4 -2.9 0.4 2.7 4.6 -0.6 -0.3 0.1 6.2 3.5 1.1 5.2 -1.5 -3 4.6 -2.8 3.5 0.4 4.5 1.8 0.5 -0.5 -1.9 5.2 3.8 -0.7 2.2 1.5 2.7 0 3.4 1 4.3 2.2 2.8 -4.6 2 5.8 1 -0.1 6.2 -0.8 0.7 0.8 -1 -0.3 3.3 0.1 1.2 1.8 1.8 -5.4 4.1 3.9 5.1 1.6 1.9 -3.8 -1 4.8 4.8 1.7 3.9 -1.8 -0.7 -0.2 2.9 -0.9 -2.8 2 9.6 -1.5 -1.6 4.3 4.6 0.1 1.6 5.8 0.1 -0.7 4.4 5.3 -0.8 -0.2 2 0.8 3.6 -0.8 2.5 -0.1 3.7 -1.1 0 -0.4 -0.5 -0.1 5.3 -1.3 6.5 2.2 0 -1.3 -0.7 1.8 4 1.2 1.4 1.4 5.4 1.7 -0.4 2.1 0.2 1.1 4.5 -0.1 -1.1 3.7 2.2 2.4 2 0.4 6.4 3.4 0.8 1.9 -1.4 0.1 4.1 3 2.8 2 0.5 0.7 2.3 2.8 1.7 4.1 2.3 1.4 0.8 0.7 2.5 6.3 3.7 -2.9 3.8 4.9 -1.1 0.4 -0.2 3.3 2.6 2.3 4.3 -2.9 0.3 7.5 0.7 -0.9 3 2.1 -0.2 -2.9 1 -0.2 6.1 2.9 0.8 0.2 6.8 1.9 0.8 1.6 -1.4 -0.1 4.3 0.6 5.5 -1.8 0 3.3 3.5 -2.5 3.5 -0.6 2.6 4.1 1.3 0.8 5.4 -4.3 1 1.2 3.7 1.8 0.4 -0.5 1.6 1.1 2.7 1.5 6.7 0.8 1.2 0.4 0.2 -0.7 3.8 3.5 -1.7 -0.2 5.6 -0.9 0.1 4.6 5.6 -1 2.3 0.5 -5.7 -5.2 6.3 1.4 7.9 -1.9 -5.1 1.2 5.2 -3.7 0.4 3.6 4.8 -3.3 2.4 0.2 -2.9 0.7 5.1 -3.8 2.8 1.3 4 -2.1 -0.6 -1.2 4.6 1.5 1.9 -2.2 2.5 1.8 2.2 -6.1 4.4 -2 2 1.2 4.3 0.3 2.4 1.9 0.7 0.1 2.1 0.5 4 -3.1 -0.9 -0.4 0.9 1.9 6.2 0.3 4.1 -1.2 1.1 -3.2 -0.5 -3 6.9 0.9 1.9 1.8 1.3 -0.9 6.4 -6.2 -2.7 -1.4 0.3 -3.8 0.9 -1 3.9 -5.2 -0.9 -1.6 1 -2 -3 -4.9 2.9 1.1 -4 -3.9 5.8 -4.4 1.3 1.7 -5.6 -0.2 3 -2.9 -2.4 -0.1 -3 -5.6 2.1 -2.2 1.7 -5.1 -1.6 -0.2 -1.9 2.7 -2 -4.4 -0.3 -2.6 0.7 -2.3 -1.1 1.2 -3 -3.4 -5.3 0.2 1.9 -4 -6.7 1 -0.3 -4 -4.1 1.3 2.3 -2.7 -3.7 -1.2 -1.1 -0.7 -1.6 -3.8 -1.2 3.1 -5.5 -1.5 0 -1.9 -0.8 0.7 -1.1 -1.9 -6.4 -1 1.3 0.7 -6.8 -1 -2.8 2.5 -1.2 -0.7 -2.4 1.6 -1.8 -1.8 -3.7 -1.3 -0.6 0.5 -4.1 0.1 -1 -2.2 -5.1 0.1 0.7 -3.6 -4.3 -0.5 -1 -4.6 -1.9 0.9 1.1 -4.6 -3.7 -4 -1.4 1.1 -6 -1.1 4.6 -5.3 -5.5 0.4 1.6 -3.7 -0.3 0.5 -1 -1.7 1.5 -5.2 -1.6 -1.9 -2.9 -4.3 3.5 -2.1 -2.8 0.9 -5.5 -4.6 0.1 -2.9 -0.4 -2.1 2.2 0.1 -2.2 -5.2 -1.3 -3.4 -0.2 -0.7 -1 -2.6 2.2 -4.4 -1.9 -2.7 0.9 -3.1 -0.8 -0.9 -0.3 -2.5 -0.3 -3.2 0.2 1.5 0.7 -3.9 -1.1 -5.3 0.8 0.5 1.9 -3.4 -3.4 -2.3 -0.5 0.9 3.4 -6.7 0.1 -0.9 -1.1 -2.7 4.1 -2.4 -1.7 -4.3 2.2 0.3 -1.1 -1 1.5 -5.3 1.3 -1.7 1.6 -3.5 0.2 -4.3 -3 -2.5 -0.1 -0.8 3.5 -2.7 -0.8 -3.2 -1.3 -1.1 1.3 -1.5 -1.3 -2.8 -2 -2.4 0.6 -2.8 -1.1 -5.2 0.1 -0.1 -1.4 -3.8 -1.2 -2.8 -1.7 -1 -1.1 -2 -3.8 -1.6 -0.7 0.4 -5.6 -4.9 -1.1 -4 2.8 0.6 -0.1 -1 -10.6 -1.8 2.1 0.3 -2.9 -2.9 -1 -3 -1 -0.8 -2.2 -3.5 0.4 2.7 -3 -4.9 -1.5 0 -0.9 -3.9 1.4 -1.9 -3.5 -3.2 -2.4 -0.8 3.7 -2.2 -0.1 -5.7 -3.4 2.6 -5.8 -1.7 3.9 -0.9 -2.9 -2.3 -3.1 2.6 -3.3 -2.6 -3 -1.5 -0.2 -2.2 -0.7 -6.5 -1.1 0.4 0.5 1.9 0.5 -7.9 0.1 -2.1 -3 -4.7 2.8 -2.7 -3 -2.8 -1.1 -3 3.1 0.4 -0.4 -2.5 -1.9 -3.8 0.5 -2.5 4.2 -1.6 -2.7 -1.7 -0.3 -4.2 2.5 -4.1 -0.8 -1 0.2 -2.4 1.8 -1.3 1.7 -3.1 -1.6 -1.5 -2.6 0.1 -1.2 -2.8 0.7 -0.2 -2.4 -1.8 -4.6 0.4 -3 -6.1 1.4 2.2 -3.3 -2.1 -3.6 1.8 -4 -4.1 -0.9 1 -3.3 -0.6 -0.4 -0.3 -2.7 1.5 -5.4 -3.5 -0.3 0.6 -3.4 -1.7 -2.4 -2.4 -6.3 3 2.4 4 -7.6 0.3 -0.8 1.7 -3.4 -1.6 1.8 1.1 -9.1 2.9 4.3 -2 -5.2 -1.7 -2.5 8.1 -4.2 -6.2 2.4 -2.3 -2.3 -1.1 -2.4 -1.6 -3.5 -0.9 -4.1 1.1 0.2 -1.4 -1.8 -2.1 -4.3 2.2 0.8 -3.8 -1.7 3.2 -5.4 0 -1.3 0.4 -3.3 -0.6 -0.6 5 -4.1 -2.4 0.6 3.5 -6 -2.2 -2.5 -1.1 -0.2 1.4 -2.1 1.6 -3.9 -2 -2.8 0.6 -4.3 0.1 0.5 1.3 -4.4 -5.2 -4.6 -0.9 -0.8 3.1 -1.5 -3.4 -4.7 -0.7 -0.8 -2 -2.7 -2.3 -2.9 4.2 0.4 0.9 -4.1 0.3 -3.9 0.5 3.4 1 -3.4 0.5 -6.8 -1 -2.5 0.6 -3.6 0.6 -3 5.3 3 -2.1 -6 3.3 -1.4 -4.6 -5.4 -0.5 -1.9 1.9 0.5 0 -1.9 0.2 -2.2 1.7 -5.9 0.5 -2.9 -0.2 -2.9 -0.8 -2.6 4.1 -2.9 -0.3 -1.2 -0.3 -5.1 2 0.3 0.4 -2.5 3.5 -5.4 0.2 1.2 0.2 5 0.7 2.9 0.1 -0.8 7.7 3.1 0.8 1.9 0.2 1.4 3.1 1.2 2.2 -1.8 1.8 0.7 1.3 1.7 3.3 -2.3 -0.7 -0.9 3.3 1.3 3.9 -7 -0.4 0.1 2.9 -0.7 2.5 -1.6 -3.6 -1.6 6.9 3.6 0.3 -5.6 5.1 4.2 -0.5 -6 4.5 -3.6 -1.6 -0.4 2.5 -3 0.7 2.5 3.5 -2.6 4.3 -4.1 -0.8 -3.2 2.4 0 1.5 -0.6 1.7 -2.5 1.9 -1.4 2.6 0.7 -1.9 -3.3 6.9 -3.4 0.4 -1.6 -0.1 -2.8 6.5 2.1 2.8 -3.5 -6.1 -1.8 -0.1 -2.3 -4.6 -1.5 -0.8 -2.1 -0.2 0.7 -1.9 -3 -3.6 -1.4 -3.2 -0.3 -3.4 -2.4 0.6 -2.3 0.9 -2 -10 -0.1 0.1 6.9 -5.1 -4.9 -4.1 2 1.4 5.7 -1.3 1.4 -2.6 0.1 -7.6 -1.4 1.1 1.4 -1.8 -1.6 -2.3 1 -5.2 -2.9 3.7 -1.1 -4.5 -1.3 4.4 0 4.5 -3.5 -1.1 -1.1 4.9 -1.5 0.7 -4.2 1.1 -0.6 3.8 -2.7 2.2 -4 2.8 2.7 -0.5 0.3 5.2 0.3 3.6 -1.6 0.4 0.7 3.1 -2.7 3.3 2.7 -0.3 -6.3 0 -3.5 4.5 0 3.3 -2.2 -2.8 -1.8 2.9 -0.2 4.5 -2.1 2.8 -5.4 -2.9 2.5 3.6 -6.1 -2.6 -3.6 4.7 -2.8 -1.7 2.4 1.4 -2.9 1.6 2.5 2.4 1.7 0.3 -1.3 -0.4 0.5 5.1 2.9 0.7 0 4.4 0.5 1.7 3.7 3.2 -1.9 -0.4 -2 4.9 -0.9 -1.3 1.3 6.8 -3.3 1 -0.6 2.9 0.5 2.9 1.7 2.3 0.3 2.3 -5.6 0.1 -2.3 4.2 -2.3 1.4 -1.8 4.8 0.1 -1.2 -2 -3.2 -1.3 6.3 -3 -0.6 0.1 4.5 -4.6 -1.9 -1.3 5.6 2 2.2 -4.8 2 -1 -1.2 -3.5 3.9 0.1 -1.8 -2 5 -1.9 -0.2 -3 2.5 -1.8 -0.5 -1.7 -0.6 -3.8 5.2 1.8 0.6 -2.8 -0.6 0z"/>
<path fill="#1a1a1a" d="M3175.7 542.1l5.4 4.1 -3.2 -3.1 5.4 0 2.8 0.4 0.2 5.6 4 -5.5 3.2 -0.3 3.4 1 2.2 1.2 1.8 -0.1 1.2 0.7 4.2 -1.2 1.8 -0.2 0.9 0.4 5.6 -3 1.1 0.1 1 -1.6 3.2 -0.1 2.8 1.2 -1.4 -6.3 1.3 0.5 4.8 -1.7 3.2 0.8 0.7 1.2 2.8 1.7 -2 2.3 5.9 4.9 0.6 -2.6 2.9 1.4 1.7 2.1 1.9 2.2 3.9 0.6 2.9 0.5 -5.9 -0.7 1.8 4.4 0.1 3.1 -1.5 2 2.2 0 -6.6 1.1 2.3 1.7 -3 -3 -3.4 0 -1.5 1.9 -5.5 3 -1.8 -1 -2.4 1.7 -1.5 0.8 -0.5 3.9 -3.3 0.5 3.2 1 -0.5 3.3 0.3 4.8 -2.5 2 -2.3 2.1 3.1 1.7 -0.1 7.3 -0.2 -1.1 -1.7 2.7 -0.1 3 3.4 3.9 -0.9 -1.6 3.2 0.4 3.9 -0.7 3.5 -0.2 -1.7 2.9 5 -3.9 0.5 10.2 3.1 -2.4 1.6 0 3.8 -1 0.8 2.9 3.3 0.6 3.7 1.1 0.8 1.5 -2.2 -3.3 8.1 -3.3 2.8 2.3 -2.2 -5.6 4 2.5 2.1 -4 1.6 2.8 -1.1 4.1 1.8 -1.1 0.2 4.2 -0.6 1.5 1.4 3.2 -3.6 0.3 1.4 5.3 -0.7 -0.8 0.1 4.5 0.1 2.1 1.3 0.6 0.7 2 -2.1 4.8 1.9 0.7 1.8 0.8 -2 3.9 -2.6 0.4 0.1 2.3 -0.1 5.2 2.7 3.7 0.4 -0.1 2.5 5.3 -2.9 3.4 -1.1 1.5 -0.9 0 -7.4 -0.2 0.6 2.9 -4.6 1.4 -5.7 0 0.8 0.1 -5 3.7 0.1 -2.5 -1.1 2.2 -3.3 6.5 -1.4 0.6 -3.1 -1.5 0.7 0.4 -1.9 8.3 0.7 1.3 -2.1 1.8 2.8 5.2 -0.6 -2.4 -4 6.1 -2.4 -2 1.6 3.3 -2 5 2.6 3.4 2.6 -0.1 -5.6 -0.2 -2.7 1.4 1.2 0.8 -2.8 5.3 6.1 1 -3 3.8 0.1 4.9 3.7 0.6 0.1 0.7 -1.4 2.8 2.3 4.5 -1.4 0.7 0.5 3 0 2.1 -5.1 3.1 -0.9 0 0.1 0.1 -9.1 0.5 3.5 -0.3 -1.6 0.4 -2.8 -1.9 3.1 -1.9 -2.3 0.6 1.3 -0.3 0.3 -9.3 -0.6 -1 1 0.7 -2.6 -6.3 4.9 -1.4 -2.2 -3 -1.4 0.3 0.9 -5.6 1.2 -1.2 1.5 -3 1.6 -3.6 1.4 -0.7 1.6 -1.5 -1.2 -4.9 -0.3 2.1 0.5 -6.9 1.4 0.1 0.3 -4.1 -3.9 -2.7 4.2 -5.1 -4.6 -3.4 -3.2 0.1 0.2 -1.4 -2.6 -1.7 -2.9 -2.6 0.6 -2.2 -6.8 0.4 1.5 -2.1 -2.4 -4 2.4 0.9 -1.6 -1.6 -0.9 -4.8 1.5 -3.1 -2.2 -1.5 -4.3 -2.1 0.9 -2.3 0.7 -2.2 -2.2 -5.7 2.7 -0.6 -1.5 -2.9 -3.8 -1.2 1.5 -0.8 -0.2 -4 0.5 -2.3 3.1 -5.1 0.8 0 1.6 0.6 2.2 -5.8 0.2 3.6 3.1 -4.6 -4.3 -4.7 4.3 -0.4 3.1 -3.4 -4.4 -0.2 3.7 -1.5 -1.7 -4.3 1.8 -3.7 -0.5 0.4 -1.6 -2.8 -1.6 -4.7 3.5 2.6 2.1 -5.7 -1.8 -1.3 0.4 -3.5 0.4 -2.7 -3.8 -2.6 -1.8 -3 0.2 -0.7 2.8 -3.4 -3.8 -1 4 -5.4 -4.6 0.7 -4 -5.6 1.1 -0.5 -3.3 -2.9 -2.9 -3.7 0.7 3.3 -5.2 -3.4 -1.1 -1.6 -3.3 1.5 -2.1 0.6 -4.7 -2.3 0.2 -0.6 -1.1 0.8 -5 -1.5 2.7 0.1 -4.7 -3.8 -2.5 -1.2z"/>
<path fill="#1a1a1a" d="M2889.8 617l3 4.8 1.1 -1.9 3.8 4.1 1.6 -1.9 0.2 4.1 3.4 1.1 -0.4 5.7 -1.4 1.5 4.4 3.8 1.9 -2.2 0.6 2.8 -0.9 2.9 -2 -1 2.5 5.1 -2.6 1.5 1.1 -0.3 5.1 4.9 -2.4 4.5 -1.1 0.2 -2.3 2.8 3.4 4.6 -0.6 -0.3 4.6 5.5 -2.5 2.7 0.5 0.5 1.5 1.8 -1.4 3.4 -5.2 2.9 3.7 2.4 -3.1 1.6 -1.8 4.9 -1 3.9 -1.3 -0.2 0.5 0.3 -3.6 2.9 -3.7 -0.4 0.4 0.2 -1.1 -1.1 -0.8 -2.3 0.9 -1.8 -2.7 -2.3 -2.6 -1.5 1.9 -3.2 -2.4 -3.9 1.2 -0.6 0.6 1.5 2.2 -7.3 -1.4 -3.6 1.4 -2.7 0.3 -2.7 0.9 -2.6 4.1 -2.6 -4.5 -0.9 -0.2 -2.8 -2.6 -2.8 -1.6 -1.2 4.9 -1.5 -1.2 -3.8 -1 0.4 2.9 -4.8 -4.7 -2.6 0.7 -3.3 -2.5 -1.1 -1.4 -3.9 0.8 0.6 -2.5 -4 -0.8 -1.7 0.3 -0.9 1 -2.7 1.8 -1.4 2 -1.6z"/>
<path fill="#1a1a1a" d="M2808.7 667.9l3.8 -2.4 -1 -1 3.6 -1.7 -2 -2.1 4.7 0 1.8 0.4 2.2 2 -1.4 3.1 0.7 -0.2 5.3 5.6 -0.1 -0.3 1.3 4.4 2.8 1.1 3 0.4 1.5 1.9 2.8 0.5 2.2 1.2 2.1 3.7 2 1.1 1.6 -0.6 3.6 3.3 1.5 -0.9 0.3 -1.2 1.7 -0.2 3.9 -0.4 3.6 -0.4 1.5 -0.9 2.2 2.7 5.9 -1.6 2.9 3.7 -2.5 5.8 5.5 -1.7 0.7 2.9 0.7 1.6 1.7 -1.6 1.4 3 0.2 4.9 0.2 1.3 1.8 1.5 -3 0.5 -1.3 -2.4 -2.5 1.4 -4.9 0.1 1.9 0.1 -1.5 -0.5 -0.9 -0.1 -6.1 -1.5 0.7 -2.7 -3.3 2.5 -4.5 -2.2 0.4 -1.8 -5.6 -0.6 -4.4 0.3 -1.5 0.9 -2.1 2.6 -2.8 0 -1.6 -2.2 -3.1 2.6 -0.7 -4.2 -6.5 -1.6 1.2 0.5 -4.5 -3.4 0.4 -1.1 -1.7 -0.3 -1.5 -4.3 -1.9 4.1 -1 -3.9 -3.1 -2.9 -2.5 -1.6 -1.6 1.6 -1.2 -1.4 -1.4 -6.2 3.2 -0.5 -2.5 -1.3 -0.8 -5.5 -2.4 -2.5 1.4 -1.4z"/>
<path d="M2882.6 709.8l0.2 4.7 4.2 0.5 -2.2 6.1 3.5 -1.1 -0.7 4.5 1.8 2.7 3.2 -0.1 -1.8 4.4 3.2 1.9 -2.7 0.5 -1.7 6.1 -0.9 0.3 -0.4 -0.9 -2.5 1.8 -1.2 2 -4.1 3.7 2.2 2.1 -4.9 2.7 1.7 1.7 -1.7 1.1 2.2 3.5 -4.2 2.3 -0.9 2.9 3.1 2.1 -1.9 3.6 0.5 4 1.3 -0.7 -2.3 4.4 -0.8 -1.3 -0.2 2.7 -0.6 6.4 0 -1.2 -1.1 4.6 -3.9 0.4 5.6 -0.8 -4.7 8 0.3 -0.2 2.4 3 -4.1 5.6 2.8 2 0.7 -0.3 -0.1 3.9 0.7 2.9 -0.6 5.2 -2.3 0.8 3.4 3.2 -0.1 3.8 -3.6 2.8 0.7 0.8 -1.2 5.1 1.5 0 -0.5 3.1 -2.1 3.8 -0.7 -0.7 0.8 5.5 -2.4 1.9 0.7 2.6 -2 2.3 0.4 2 0.1 5M2890.7 731.8l2.3 3.4 0.1 -1.7 0.1 3.9 0.4 1.7 1.9 2 -2 3.7 2.4 3.8 -0.1 1.7 1.4 2 -0.4 5.1 2.5 -0.5 -1.5 3.5 1.7 0.4 -3 4.5 0.4 2.5 0.8 -0.4 -2.4 3.8 1 2.4 0.3 1.9 -3.5 5.8 -0.8 1.9 -1.2 2.4 2.3 5.3 -2.2 0.8 -3.8 3.6 1.6 1.3 1.3 2.5 -1.7 2.4 -2.5 -0.6 0.2 4.6 0.8 0.9 1.2 3.8 -1.9 1.7 -1.5 1.5 0.4 4.4 -0.4 2.6 -2.5 2.7 0.5 1.5 1.4 2 0.1 2.3 -1.4 0.5 0.3 2.9 -0.2 6.7 -3.1 4.2 -0.3 -1.1 1.4 2.7 -1.6 3.1 -2.6 0.9 -2.1 3 -0.7 -0.1 -2.3 3 -1.8 -1.6 -3.7 2.5M2865.9 859.1l0.4 0.6 0 2.3 0.6 -0.6 1.7 5.7 -3.7 0.4 1.3 5.4 3.9 -0.1 2.6 2.3 2.1 1.9 -1.8 3.2 1.4 1 3.5 3.4 3.7 -0.5 0.8 1.4 0.9 1 4.3 -0.9 4.4 -0.1 0.3 2.1 2.5 3.5 2.4 -0.5 1.6 2 3.2 -1.2 3.1 1.3 0.4 3.4 3.2 0.9 3.5 -1.2 -0.6 0.2 4.4 -0.2 2.5 -0.3 3 -0.4 0 -3 5.9 2.3 0.4 -3.7 3.1 1.6 4.7 -2.4M2904.9 761.5l-3.6 1.1 2.4 -1.3 -5.3 2.8 3.2 2.4 -2.9 3.1 -2.5 3.1 -0.3 0.8 -2.6 3 3.3 3.4 0.6 1.3 0.1 2.7 3.2 2.3 -0.8 1.5 0.6 -0.1 -0.5 4.8 2.8 1.7 0.3 3.5 1.8 2.4 0 -0.7 -1.8 2.4 -0.5 0.7 0.9 5.1 -3.2 2 -3.6 2.5 -1.9 2.3 -4.1 1.4 3.2 2.8 1.6 1 -1.2 3.7 0.4 1.4 -1.1 1.3 3.7 5.7 1.1 -0.9 0.9 5.6 1.9 2.8 0.1 3.2 -2.3 2.9 -2.4 1.8 -2 3.3 2.2 -1.8 -4.7 3.9 1 2 -1.2 3.5 -3.6 0 1.1 3.1 3.2 1.2 -0.1 3.7 1.5 -0.2 3.8 -1.4 -0.2 3.1 4.3 2.9 -0.4 0.2 4.4 -0.2M2872.8 776.7l2.8 -0.5 2.5 2.2 4.1 0 0.4 2.7 2.5 0.9 2 1.7 1.8 -1.5 1.1 0.3 7.9 -0.2 -1.3 -2.7 3.3 0.1 2.3 -2.1 1.1 -2 5 0.7M2867.8 830l2.6 1.2 4.3 -1.9 1.5 1.3 1.6 2.4 5.2 -0.3 3.6 -4.2 0.5 4.4 3.5 1.5 1.8 -1.5 -0.9 -0.7 5 1.1 0.7 -1.6 4.4 -1.2 0 -1.1M2869.1 610.4l3.1 0.2 2.3 1.3 2.9 1.8 3 0.2 2.5 0.6 -2.2 2.8 2.4 -2.8 2.7 1.8 3.6 1.6 3 2 2.4 -1.3 1.7 5.4M2857.3 694.8l2.6 2.9 3.6 -0.6 1.5 3.1 -0.7 0.8 4.4 -0.7 2 1.6 1.3 1.4 3 3 -0.7 1.8 2.4 0.5 2.1 0.8 2.3 1.2 2 3.3M3193.7 783.9l-2.1 -4 4.8 1.2 -0.5 -4.6 3.9 2.7 3.7 -4.4 2.9 -0.8 -6 3.9 1.7 2.7 -2.8 1.5 0.5 1.7 -0.2 1.7 -3.4 2 -3.2 1.5 3 3.6 0.6 -2 0 5.9 -0.3 1.9 2.8 1.7 2.8 6 2.6 1.6 -0.8 1 1 2.5 1.2 2.3 2.1 1.1 2.4 2.6 1.9 3 0 0 -0.5 2.3 2.5 2.7 -0.7 4 2.5 -0.4 5.5 5 -2.1 0.9 2 0.2 -0.7 -0.2 2.1 2.4 4 4.6 0.6 0.6 3.5 0.4 -1.9 3 1.6 0.8 1.3 2.7 3.5 -0.4 0.7 3.3 0.9 2.2 0.7 3.1 3.3 2 3.8 0.8 2.2 -0.2 3.2 0.1 0.3 5.9 -2.3 1.4 3.5 3.9 -0.9 2.3 4.1 0.4 1.5 1.4 1.7 1.8 0.2 5.5 0.2 5.3 -2.3 -2.5 1.2 4.1 2.4 1.9 -3.8 4.4 3.8 4.7 -3.8 -1.2 4 2.7 0 4.2 1 5.2 -2 -1.3 2.9 3.3 0.5 3.8 -0.8 3.7 2.9 -0.1 -1.6 3.3 0.1 2.4 4.7 2.8 -0.1 0.5 -0.2 3.9 -2.4 0.9 6 3.3 1.2 0.7M3188.1 787.4l2.1 2.6 0.5 1.4 -1.1 4.4 1.4 0 -2.2 4.2 4.3 1 0.4 3.3 -0.7 2.2 2.2 1.1 0.6 2.6 -1.5 1.4 -0.4 5.3 1.1 4.6 1.1 0.8 -1.3 2.7 2.5 2.1 -3.5 1 2.5 2.6 -1.5 5.1 -2.3 2.7 4.3 1.4 0.1 2.6 0.6 0.5 -0.9 4.8 -0.6 0.7 3.9 2.9 3.9 2.8 -1.9 2.4 2.6 -1.4 -2.4 3.3 3 -1.1 1.1 7.4 2.3 -0.6 0.2 2.5 3.6 0.3 1 4.5 3.6 2.2 -0.2 -0.3 4.7 -0.1 -2.2 5 2.4 -0.8 4.4 3.2M3068.3 520.6l-1.6 3.3 1.2 1.5 -4.7 2.8 -2.4 0.8 5.5 5 0.4 3 4 -1.3 1.5 3.7"/>
<path stroke-width="12.5" d="M2841.5 935.4l-1.2 4.6 1.9 0.4 0.4 3.8 2.9 1.4M2861.7 934.7l3.8 3.9 2.9 -1.9 -2.9 7.5M3032.8 936.3l-1.6 -2.7 -0.4 4.6 -2.4 -0.1 -2.5 2 -0.9 -2.7 -2.8 2.8 -3.7 4.5 -6 0.5 3.8 0.1 -2.6 2.6 -2.8 6.2 -4.7 -3.3 0.6 3.5 -1.9 3.7 -2.7 -1.2 -1.4 5.7 -3 -0.6 -1 1 -2.7 1.1 -0.4 -1.4 -2.9 4.9 -2.9 -2.1 -1.4 3.5 -4.1 -3.8 0.7 3.1 -3.5 -1.3 -4.2 1.2 -3.2 5.9 -0.2 0.2 -1.9 -0.9 -0.4 -2 -1.4 -1.7 -2.8 7 -5.1 -0.3 0.3 -0.3 -3.9 2 0.1 -1.7 -1.1 2.2 -6.9 2.5 2.6 0.7 -2.1 2.8 1.5 2.9 2.5 3.2 -3.9 3.1 4.6 1.5 1.7 -0.3 1.5 5.9 2.5 -2.4 2.5 2.3 1.8 1.9 2.9 2.8 -0.3 2.3 3.9 -1.3 2.5 4.9 1.4 2.8 3 1.9 1.5 0.2 -0.6 3.2 0.4 -1.9 3.4 -3.2 1.2 3.5 -1 -6.3 4.4 0.9 0.5 -0.9 1.4 -4.5 0.8 -1.9 0.1 1.6 0.8 1.3 0.9 -0.4 6.2 0.4 4 1.6 -1.4 -2.6 4.6 4.8 2.3 -2 0.9 0.9 9 0.3 -4.2 3.3 -0.5 0.9 -1 3.8 1.4 4.4 3.1 -0.7 2.9 -0.9 3.9 -2.5 1.6 2 3.3 0 0.1 6.3 3.1 -0.5 -0.8 -6 4.4 -0.3 -0.7 -5.3 1 -0.5 2.1 -1.4 2.8 -1.5 -2.3 -6.7 -0.9 1.5 -1.7 -3.6 -3.1 0.4 -1.4 -0.8 -3.2 -2.6 0.7 3.7 -7.3 -1.9 3 -1.1 -0.1 -3.9 -3.9 -3.1 -0.1 0.1 3.6 -2.4 -3.9 -1.5 -1.4 0.1 1.8 -7.4 1.6 -1.8 1.7 -6.4 1.6 2.1 -2.7 -2.6 4.4 -0.7 -2.3 -4 -0.1 -1.2 2 -5.7 3.3 -1.1 2.3 -6.1 3.9 1.3 0.3 0.7 -0.1 -2.9 3.2 -2.9M2951.5 982.5l3.1 3.8 1.7 -2.3 1.2 3.6 2.7 1.2 1.1 0.2 1 1.1 5.1 0.8 2.8 -0.6 1.2 0.6 2.2 3.4 1.7 -1.5 3.2 0.5 0.3 3.3 -0.1 -3.3 4.5 4.8 -0.9 1.9 4.6 1.8 1.4 3.8M2955.2 977.6l1.7 3.1 0.6 -0.6 4.3 2.8 3.6 -0.3 -1.3 2.8 4.3 -2.8 -1.1 4.1 -2.3 5 -0.8 -1.2 0.6 4.3 -2.2 1.7 -0.4 -0.7 -1.7 3.7M3045.5 943.5l0.7 -0.3 1.2 1 2 3.5 3.1 1.8 2.6 7.1 3.9 -2.4 -1 -0.8 3.1 3.1 1.8 2.4 3.1 1.6 1.2 3.1 2.3 3.3 0.6 2.2 1.9 -1.7 -0.1 2.4 -2.7 3.2 -1.1 -2.7 5.9 6.8 -0.3 5.4 3.1 3 -3 0 2.2 2.7 3.4 0.2 2.6 -1.6 3.2 3.8 -0.3 -1 7 0.3 2.6 0.5 -0.5 1.6 0.8 3.1 0.4 1.9 1.5 5.5 3.8 1.6 -4.8 1 4.8 0.1 -2.9 4.6 4.8 1.5 5.5 0 -1.3 4 3.7 -1.5 3 -0.9 1.8 1.1 -0.2 -0.1 6.3 5.5 -0.2 1.1 3.3 -3.9 1.2 0.9 0 1.5 5.7 -0.2 2.8 3.6 1.8 -4.4 0.1 -2.4 2.4 -2.9 2.3 -2 1.6 -3.1 2.6 -1.6 -2.9 -1.7 4.4 2.1 3.3 -4.6 -3.3 -2.4 5.8 0.3 -1.2 -2.3 5.6 -2.2 -0.5 -4.2 2.1 -0.5 -1 -5.8 1.4 -4.8 9.1 0.2 -4.6 2.2 0.8 -3 -2.2 -6.5 0 0.1 0.8 -5.1 0.4 -2 0 -1 -3 -0.4 -0.6 -1 -2.9 -3.6 -4 -0.2 1 -3 -4 0.3 -3 1.4M3051.1 952.5l-0.7 -0.9 4.3 3.6 1.8 0.3 3.1 1.1 0.2 3.3 3.8 -2 0 5.8 0 -1.8 4.5 3.4 0.8 -0.1 0.2 0.3 1.2 5.4 -1.1 3.3 1.9 3.9 3.1 -0.7 1.7 1.8 -4.9 3.5 4.6 3 2.5 4.2 0.2 -0.7 2.1 3.8 -0.6 -0.7 -0.4 3.1 2.1 1.8 3.6 -0.5 3.9 4 2.2 3.7 0.9 -2 4.8 3 -1.3 1.5 2.2 0.8 1.2 4 2.3 0.2 3 0.3 1.6 2.6 2.5 4 -2.6 -3.3 7.4 3.4 3.3 -2.6 -2.2 2.6 5 2.6 -0.3 -2.7 3.1 1.5 1.7 -0.2 4.6 -0.5M3118.2 949.4l2.3 3.1 -1.2 -0.2 0.6 6.5 -1.7 1.7 -5.5 0.7 3.1 5 -3.4 0 -2.7 1.6 1.9 3.7 1.8 -1.1 -0.1 4.5 -2.9 1.6 7.8 2.6 -3.3 6.4 4.9 2.1 1.6 1.3 -1.6 4.7 2.1 2 0 -2.6 5 0.8 0.8 3.5 2.3 0.8 3.7 3.3 -3.1 2.7 3.8 5 1.1 -8 -0.1 -1.8 7.3 1.9 -2.6 -5.2 5.5 1.5 1.8 -5.6 0.6 -0.3 0.6 -0.7 0.1 -1.1 0 -7.1 2.3 3.2 -2.2 -8.5 -3.4 -0.7 2.2 -6.1 2.3 -1.5 -5.3 0.2 -1.3 -4.3 3.4 0 -2.6 -3.2 -4 -1.6 -3.7 0 -4 0.5 3.8 -2.1 -6 -2.4 1.2 2.9M3120.9 975.5l0.8 0 2.4 3.6 4.1 0.2 -1 -1.9 3.5 0.9 6.5 2.4 0.2 3.2 2.4 -0.2 -0.3 -3.7 1.7 2.2 3 -4.6 -1.2 -2 6.2 0.2M3073 535.9l-2.7 -1.8 -1.7 -3.3 0.8 -1 -0.6 -4.5 -0.2 -2 -3.6 1 3.5 -4.2 0.6 -2.3 -2.4 -3.4 0.1 -0.4 3 -2.7 1 -1.1 2.6 -2.1 1 -4.8 4.8 0.4 -0.4 -1.5 2.8 -0.1 4.5 1.2 1.1 -0.7 2.6 0.4 2.9 0.9 3.1 0.9 -0.1 0.9 0.2 2.9 0.4 4.1 -3.1 2.5 -4.1 1.5 -0.1 0.6 -1.3 3.5 -5 -1 2.7 4.3 5.1 -0.9 1 -0.2 0.3 1.7 4.9 2.5 -1.5 -0.7 1.9 0.1 3.8 0.2 5.1 -1.2 4.3 -1.4 -2.2 2.5 2.5 -2.3 2.8 -4.9 1.5 -5.5 -2.4 1.4 -1.2 -2.7 2.2 -3.3 -0.6 -2.6 -1.5 0 -4.9 -3.3 0.5 -4.1 2.2 1.4 -6.2 -4.3 -2.1 2.3 -0.9 0"/>
<path fill="#1a1a1a" d="M2948 974.6l-1.4 1.3 2.8 -1.5 3.2 0.2 2.8 -2.4 0.5 1.4 2.9 -0.6 4.6 0.5 1.3 0.8 3.2 1.1 1.1 2.3 0.6 3.4 3 1.8 4.7 1.6 -2.7 1.6 5.7 -1.9 -0.6 4.3 2.1 1.8 -0.5 1.6 3.9 0 2.5 1.6 -0.2 1.2 1.8 -3.4 -2.4 5.4 1 5.8 1.2 1.6 -2.6 1.7 -1.5 4.8 -2.9 2.1 1 3.9 1.5 1.8 -1 2.3 -3.5 0 0.6 -1.3 -1.4 -3.6 -6.8 -0.3 -1.1 3.3 -4.4 -2.4 2.7 -2.9 -3.4 -1.8 -1 -3.8 -4.3 -1.7 -2.2 2.2 -2.2 -2.9 -2.2 -6.3 -2.1 -0.2 -1.8 -1 1.7 -2.6 -4.6 -0.4 -2.9 -1.6 3.8 -2.6 -5.5 -1.3 3.9 -4.1 -2.4 -2.2 2.2 -3.9 -1 -0.5 -0.3 -5.9z"/>
</g>
<path fill="#fff" d="M3198.7 809.2l0.9 3.7 1.8 3.6 2.6 3.9 3.1 3.9 0.3 3.1 2.6 4.7 3.1 3 1.5 3.9 2.9 4.2 2.8 2.8 1.7 3.7 3.8 0.8 1.7 4.3 2.8 2.4 0.5 3.3 -3.5 1.8 -4.7 0.9 -2.6 2 -3.7 0 -2.4 -1.8 -1.8 -3.6 -3.9 -4 -2.2 -3.1 -0.3 -3.3 -2.7 -5.8 -0.7 -1.8 -1.1 -4.8 -2.1 -4.3 -1.2 -3.9 -3 -2.9 3.5 -5.6 -1.8 -3.4 0.3 -5.1 0.9 -4.2zM2958.3 686.8l3 1.7 3.8 -1.6 3.8 0.5 4.4 0.1 4.3 -2 -1 4.5 -0.9 3 -1.1 3.7 -0.2 3.7 -1.9 3.8 -0.8 5 -2 2.1 -3.3 -1.4 -4.4 -4.2 -1.1 -2.6 -0.8 -3.9 -1.2 -4.6 -0.2 -3.1 -0.3 -3.4zM3113.9 621.4l6.2 2.9 1 3.7 -2.2 3.8 0 5.4 0.2 2 -4.2 -0.5 -1.8 -0.2 0.4 -4.4 -0.3 -3.8 0.7 -3.4 1.2 -3.8zM3087.7 596.4l4.3 0.1 3.7 1.1 5 0.2 -2.3 4.6 -1 3.9 0.4 4.7 -2.9 3.9 -3.2 -2.3 -4.9 -2.1 0.5 -3.5 -0.6 -4.1 0.5 -3.5 1.6 -4.1zM3065.1 684.2l4.9 -2 3.5 -1.1 4.3 -0.5 0.4 3.8 0.3 3.9 -1.1 4.1 -0.1 5 -0.1 2.1 -1.9 5.3 -3.4 -2.8 -0.6 0 -4.1 -2.4 0 -3.8 -0.9 -2.8 -0.1 -5.8 -0.6 -3.4zM3108.3 682.7l4.2 0.8 4.5 -1.5 6.2 0.2 -0.7 2.6 2.1 4 0.8 3.4 0.6 3.8 0 3.5 -2.2 3.5 -1.3 3.5 -2.4 3.2 -1.3 1.3 -2.7 -0.5 -4.1 -3.9 -1.8 -2.6 -1 -3.3 -0.9 -4.8 1.1 -4.8 -0.6 -3.3 -0.4 -4.3zM3021.9 730.3l4.5 0.9 2.2 -0.2 3.3 1.8 3.8 -0.1 4.5 0.1 1.2 3 0.2 2.3 3.3 5.6 -0.1 3.8 -5 1.4 -2.8 -0.7 -3.8 1.9 -2.7 1 -4.1 -3.5 -2.4 -3.4 -3.5 -3.1 0.2 -2.6 0.3 -3.3 0.4 -2.7zM3082.4 708l3.4 1.1 4.9 1.8 2.7 -1.8 1.6 5.4 -0.9 4.2 -0.7 3.7 -1.2 3.7 -1.4 3 -3.7 0 -1.2 -2.3 -3.6 -1.8 -0.3 -2.4 0.1 -3.2 -0.6 -5.6 -0.4 -2.5 0.5 -3.6zM3073 739.2l6 0.6 3.5 0.6 -2 3.2 0.8 4.5 -0.9 3.5 0.1 3.6 -1.3 3.6 -0.5 4.2 -0.6 3.1 -3.3 -2.4 -3.6 -5.4 1.2 -2.9 2.2 -3.3 -0.6 -6.2 0 -3.9 -0.8 -2.5zM2996.8 839.2l3.2 1 4 0.3 3.5 1 4.2 -0.1 -0.4 4 0 4 -1.8 2.4 -0.2 3.7 -3.7 -1.1 -4.4 -1.4 -3.1 -1.5 -0.5 -2.8 -0.3 -5.7 -1.5 -4.1zM2985.9 871l4.2 -0.8 3.2 0.8 4 -0.9 3.4 0.5 4.6 -0.1 0.1 3.8 1.6 2.6 -1.2 3.1 1.4 5.3 -0.1 2.9 -3.5 0.3 -4.2 1.2 -4.9 1.3 -3.6 -0.3 -1.5 -2.8 -1.1 -4.6 -0.4 -4 -0.3 -3.4 -1.2 -4.2zM3066.4 727l2.8 -0.2 3.9 0.1 4.8 1 1.1 4.5 -1.1 4 -0.4 6.2 -2.7 2.1 2.4 3.6 -1.7 5.1 0.4 2.7 0 2.9 -0.6 5.4 -3.2 -2.6 -3.5 -4.6 -2.9 -1.8 -0.7 -3.3 -0.5 -4 0.1 -4.3 2.1 -5.2 -1.4 -1.8 -0.8 -2.7 1.4 -4.8 0.3 -3.8zM3101.1 726.2l4.2 1.3 3.4 0.7 4.1 1.2 -0.1 3.4 -0.1 5 -0.7 3.3 -0.2 5.2 0.8 4.5 -1.9 3.3 -0.1 3.6 1.2 3.9 0 2.4 -0.8 5.9 -1.1 3.1 -2.5 -4.6 -4.3 -2.6 -0.7 -1.6 -0.3 -3.5 -1.6 -3.6 0.7 -5 1.4 -3.3 -0.8 -3.7 0.1 -4.6 -1 -3.1 1.1 -5.6 -0.5 -1.2 0.2 -4.3zM3152.8 770.8l3.6 2.6 4.5 0.1 3.8 1 -1.4 5.4 0.1 2.8 -1.5 4.2 -0.6 4.7 0.1 2.8 -3.8 -2.4 -3.8 -2.1 0.6 -3.3 -0.9 -4.1 -0.4 -4.2 -0.6 -2.4 0.2 -3.7zM2911.7 770.1l4.7 2.6 2.6 0.7 3.1 1.9 0.3 2.5 -2.6 1.6 -1.3 4.6 -1.3 4.7 1.6 3.5 -5.2 -2.4 -3.2 -2 -0.3 -4.2 0.9 -2.9 0.6 -3 -0.7 -3.6 2 -4.2zM2911.9 822.5l3.3 0.2 5.6 2.7 3.5 -0.3 -1.5 3.5 -1 4.6 0.5 4.8 -2.7 2.6 -1.5 4.3 -2.4 0.1 -1.4 -1.2 -3.9 -1.3 0.8 -4.2 -0.6 -3.9 0.6 -4.4 -0.1 -2.8 0.1 -5.2zM2929.9 699.6l3.7 1.5 3.6 -0.1 3.6 2.2 2.2 -0.6 -1 4.8 0.2 2.9 -0.8 4.5 -0.9 2.6 -1.2 4.5 -2.2 -1 -3.9 -1.6 -4 -1.6 0 -5.7 0.8 -3.3 -0.6 -4.2 0.3 -5.2zM3005.1 640l4.2 1.8 5.2 3.1 -2.9 1.9 2.1 5.5 -2.2 3 -1.6 3.2 0.8 2.4 -4.2 -2.7 -5.2 -3.7 0.7 -2 1.4 -5 0.9 -3.9 1.7 -3.9zM3039.9 600.5l4.9 1.4 2.5 2.3 0.4 3.3 -1 4.6 -0.1 2.4 -1.4 5.3 1.2 2.6 -3.7 -3.4 -3 -2.4 -1 -4.2 2 -4.1 -1 -3.3 -0.5 -5.5zM3133.7 659l3.5 3.6 6.5 1.3 0.1 2.9 -0.4 3.8 -1.2 4.7 -0.4 4 -0.9 4.3 0.3 1.2 0 5.1 -2.4 -2.7 -5.1 -4.1 -0.4 -4.6 1.1 -1.3 0.9 -6.1 -1.4 -3.6 1.5 -3.2 -0.6 -5.4zM3150 600.4l3.1 0.9 3.3 2.6 -1.6 3.2 0.3 3.7 -0.2 4 0.6 4.4 -0.2 3.3 0.2 3.1 0.3 4.4 -3.1 -3 -4.2 -1.6 0.6 -5.3 1.8 -4.3 -2.2 -3.9 1.6 -4.4 -1.5 -3.5 2.8 -4.8zM3075.1 945.2l4.3 -1.3 5.3 -1.2 2.4 -0.5 5.4 -1 4.4 -1.1 2.6 -0.2 3.5 1.7 4.7 3.1 2.1 1.5 3.7 2.7 1.1 5.8 -1.4 2.6 -1.7 5.3 1.4 3.5 -1.1 4.3 -2 3.8 -3.6 2.2 -5 1.8 -2 4.3 -4 1.9 -2.8 -2.4 -4.2 -2.3 -3.8 -3.8 -4.6 -2 -0.6 -2.8 -1.5 -4.6 1.9 -2.2 -1.8 -4.6 -0.5 -5 -0.3 -2.1 -1.7 -4.7 2.6 -3.5zM2989.7 974.6l3.7 -1.2 4.6 -0.8 3.1 -2.2 3.7 -2.4 3.1 -0.2 0.3 3.5 1 1.7 2.6 5.1 1.6 3.5 1.6 2.9 -2.4 4.1 -3.4 3.5 -1.7 5.3 -3.1 3.1 -3.9 -1.6 -2.6 -3 -5.6 -0.9 -2.1 -3.7 1.8 -4.2 -0.8 -4.4 -0.1 -3.7 -0.8 -3.5zM3224.2 998.7l7 1.7 0.6 1.6 5.6 1.7 0.6 6 -1.2 1.1 -0.9 4.4 0.3 2.2 -4.8 -0.3 -3.9 -2.2 -4.5 -0.9 0.9 -5.4 1 -1.7 -0.6 -3.6 0.5 -4z"/>
<path fill="#fff" stroke="#fff" stroke-width="2.2" stroke-linejoin="round" d="M3027.6 598.6L3026.4 609.6L3029 619.5L3030.2 607.7zM3010.2 596.3L3009 602.8L3013.1 609.4L3014.1 601.2zM3119.2 693.6L3116.8 701.7L3120.1 711.8L3122.3 704.1zM3091.9 615.5L3089 621.7L3090.6 629.6L3093.9 622.8zM3117.9 543.3L3116.1 551.4L3117.7 562.1L3119.6 551.9zM3086.6 670.7L3083 679.6L3082.9 686.5L3086.4 679.4zM3114.1 689.3L3111.5 696.1L3111.2 704.2L3114.1 695.5zM2986.6 660.7L2982.3 672L2983.9 682.2L2988.3 673zM3102.6 579.7L3097.5 589.3L3095.2 601.6L3101.1 589.7zM3112.7 606.7L3113.9 614L3117.3 620.7L3116.2 612.5zM3057 633.6L3056.2 638.2L3058 645.4L3058.9 640.7zM3140.8 566.9L3136.6 577L3136.8 590.9L3141.2 580.4zM3099.3 613.3L3098.3 618.7L3100.8 623.4L3101.8 618.9zM3022.3 622.8L3019.8 627.9L3023 633.3L3025.6 626.2zM3133.5 563.8L3132 567.5L3133.2 574.8L3134.7 567.8zM3073.7 550.5L3070.9 562L3070 572.2L3073.3 559.7zM3089.5 533L3082.6 541.1L3079.8 548.5L3085.7 541.3zM3014.8 581.9L3013.8 591.4L3017.7 603L3018.9 591zM2998.4 594.9L2993.2 604.1L2993.1 617.6L2998.4 606zM3050.2 649L3045.6 655.4L3046.6 660.4L3050.7 657zM3065.1 661.4L3062.9 670.6L3065.6 677L3067.8 670.8zM3108.8 553.1L3109.4 564.5L3114.3 573.8L3113.2 564zM3038.3 655.1L3035.2 666.2L3036.4 676.6L3039.4 667.9zM3088.1 688.9L3096 696.5L3105.1 701.5L3097 694.4zM3088.4 762.2L3091 768.5L3096.4 775.2L3095.5 765.9zM3057.3 769.2L3056.7 775.5L3061.1 781.9L3061.2 773.6zM3153.9 863.3L3158.6 868.4L3162.1 867.3L3160.3 862.8zM3166.2 767.2L3161.9 771.3L3162.4 779L3166.4 773.2zM3043.9 728.6L3049.9 732.6L3059.6 732.2L3051 728.5zM3127.9 831.1L3127.5 836.2L3132.1 839.7L3131.5 834.1zM3115.7 724L3115 728L3119.5 734.1L3119.3 727zM3011.5 799.5L3011.4 805L3016.1 806.2L3015.1 802.1zM2984.1 716.1L2983.5 720.1L2986.2 724.8L2987 718.2zM3167.2 775.8L3169.5 782.5L3174.8 785.3L3172.4 777.5zM3109.9 755.5L3105.9 760.4L3107.3 767.4L3111.4 763.5zM3045.1 721.5L3044 728.6L3046.5 733.7L3047.6 727.7zM3159.6 808.4L3159.5 813.4L3162.7 818.8L3162.8 812.3zM3172.9 852.4L3171 859.3L3172.2 866.7L3174.1 861zM3073.8 777.8L3070.9 783.2L3073.5 787.3L3076.5 783.4zM3048.5 778.7L3050.8 780.7L3056.9 779.8L3054 778.2zM2927.4 820L2924.2 826L2923.2 830.7L2927.2 825.4zM2927.5 712.4L2930.9 715.5L2938.3 714.9L2932.1 711.8zM2969.9 857.1L2965.1 864L2963.8 871.1L2969.1 866.1zM3115.4 737.4L3121.4 741.5L3131.1 742.6L3124.8 738.3zM3193 811L3190.2 815.4L3193 819.5L3195.8 814.9zM2943.4 814.8L2941.4 822.8L2944.4 830.5L2946.3 823.9zM3157.1 874L3159 880.6L3163 882.7L3162.2 876.9zM3083.2 881L3083.4 884.7L3087.4 888.9L3086.7 882.8zM3072.1 779.8L3066.6 783.8L3062.5 793L3069.4 787.6zM3049.8 730.1L3044.5 732.8L3045.2 736.5L3048.4 735.4zM3257.9 623.8L3253.6 627.4L3253.2 633.6L3257.2 630.8zM3217.2 684.3L3219.8 687.7L3224.8 689.4L3220.8 685.1zM3236.5 658.1L3240.8 659.4L3245.9 657.5L3239.3 656.2zM3207.7 605L3210.3 609.9L3218.2 609.4L3213 605.9zM3202 709.9L3202.4 713.1L3204.5 716.6L3204.4 713.4z"/>
<path fill="#E8801A" d="M2953.8 748.2h10.4v10.4h-10.4zM2935.9 753h10.4v10.4h-10.4zM2934.6 762.9h10.4v10.4h-10.4zM2930.3 772.3h10.4v10.4h-10.4zM2936.3 781.5h10.4v10.4h-10.4zM2935.9 788.5h10.4v10.4h-10.4zM2927 796h10.4v10.4h-10.4zM2927.7 812.2h10.4v10.4h-10.4zM2972.5 788.9h10.4v10.4h-10.4zM2980.6 784h10.4v10.4h-10.4zM2920.3 754.5h10.4v10.4h-10.4zM2943.8 827.7h10.4v10.4h-10.4zM2953 830.4h10.4v10.4h-10.4zM2959.5 833.3h10.4v10.4h-10.4zM2963.9 840.9h10.4v10.4h-10.4zM2985.9 765.8h10.4v10.4h-10.4zM2953 772.9h10.4v10.4h-10.4zM2959.1 777.5h10.4v10.4h-10.4zM2955.9 784.5h10.4v10.4h-10.4zM2951.5 792.9h10.4v10.4h-10.4zM2942.6 797.5h10.4v10.4h-10.4zM2953.9 843.9h10.4v10.4h-10.4zM2942.9 846.8h10.4v10.4h-10.4zM2955.8 781.3h10.4v10.4h-10.4zM2964.8 786.2h10.4v10.4h-10.4zM2968.1 806.3h10.4v10.4h-10.4zM2974.1 797.5h10.4v10.4h-10.4zM2967.2 789.5h10.4v10.4h-10.4zM2961.5 783.7h10.4v10.4h-10.4zM2942.3 784.6h10.4v10.4h-10.4zM2952.3 781h10.4v10.4h-10.4zM2962.5 779.6h10.4v10.4h-10.4zM2938.9 851.8h10.4v10.4h-10.4zM2923.6 793.5h10.4v10.4h-10.4zM2948.7 819.8h10.4v10.4h-10.4zM2937.6 808.8h10.4v10.4h-10.4zM2925.1 795.2h10.4v10.4h-10.4zM2949.1 754.7h10.4v10.4h-10.4zM2951.3 765.3h10.4v10.4h-10.4zM2957.9 760.5h10.4v10.4h-10.4zM2979.9 844.2h10.4v10.4h-10.4zM2979.6 836.9h10.4v10.4h-10.4zM2984.7 831.5h10.4v10.4h-10.4zM2984.2 824.7h10.4v10.4h-10.4zM2931.8 762.1h10.4v10.4h-10.4zM2929.6 752.7h10.4v10.4h-10.4zM2934.6 748h10.4v10.4h-10.4zM2941.2 747.1h10.4v10.4h-10.4zM2936.8 810.4h10.4v10.4h-10.4zM2940.2 803.3h10.4v10.4h-10.4zM2948.2 797.8h10.4v10.4h-10.4zM2954.7 793h10.4v10.4h-10.4zM2978.2 792.3h10.4v10.4h-10.4zM2981.6 800.2h10.4v10.4h-10.4zM2986.4 791.4h10.4v10.4h-10.4zM2958 743.6h10.4v10.4h-10.4zM2939.6 764.6h10.4v10.4h-10.4zM2950 768.4h10.4v10.4h-10.4zM2962.9 767.6h10.4v10.4h-10.4zM2955.1 762.1h10.4v10.4h-10.4zM2963.4 774.6h10.4v10.4h-10.4zM2958.8 768.5h10.4v10.4h-10.4zM2959.4 785.9h10.4v10.4h-10.4zM2954.6 780.3h10.4v10.4h-10.4zM2954.2 791h10.4v10.4h-10.4zM2968.5 800.2h10.4v10.4h-10.4zM2961.1 804.3h10.4v10.4h-10.4zM2955.5 796.8h10.4v10.4h-10.4zM2935.7 801.3h10.4v10.4h-10.4zM2941.2 770.7h10.4v10.4h-10.4zM2933 770.5h10.4v10.4h-10.4zM2929.2 775.6h10.4v10.4h-10.4zM3014.7 756.6h10.4v10.4h-10.4zM3023.4 748.5h10.4v10.4h-10.4zM3003.6 743.4h10.4v10.4h-10.4zM2908.6 811.7h10.4v10.4h-10.4zM2902.9 788.6h10.4v10.4h-10.4zM3030.9 722.3h10.4v10.4h-10.4zM3038.1 824.6h10.4v10.4h-10.4zM3044.5 828.8h10.4v10.4h-10.4zM2976.8 774.4h10.4v10.4h-10.4zM3135 848.1h10.4v10.4h-10.4zM3018 699.4h10.4v10.4h-10.4zM3015.1 710.1h10.4v10.4h-10.4zM3023.6 712.8h10.4v10.4h-10.4zM2984.3 850.5h10.4v10.4h-10.4zM2975.3 857.8h10.4v10.4h-10.4zM3052 859h10.4v10.4h-10.4zM3031.6 856h10.4v10.4h-10.4zM2952.3 736.3h10.4v10.4h-10.4zM3051 783.5h10.4v10.4h-10.4zM3046.9 795.5h10.4v10.4h-10.4zM3047 805.2h10.4v10.4h-10.4zM3084 723.1h10.4v10.4h-10.4zM3000.7 758.3h10.4v10.4h-10.4zM3000.6 765.9h10.4v10.4h-10.4zM3010.1 765.8h10.4v10.4h-10.4zM3002.2 766.4h10.4v10.4h-10.4zM3144.4 799.3h10.4v10.4h-10.4zM3137.1 801.8h10.4v10.4h-10.4zM3020.7 873.5h10.4v10.4h-10.4zM3009.9 866.8h10.4v10.4h-10.4zM2936.2 732.2h10.4v10.4h-10.4zM2973.7 764.8h10.4v10.4h-10.4zM3083.4 860.4h10.4v10.4h-10.4zM3083.8 850.6h10.4v10.4h-10.4zM3079.5 841.1h10.4v10.4h-10.4zM2949.8 769.5h10.4v10.4h-10.4zM2957.7 761h10.4v10.4h-10.4zM3189.6 824h10.4v10.4h-10.4zM2931.2 751.1h10.4v10.4h-10.4zM2920.3 831.2h10.4v10.4h-10.4zM2931.8 713.2h10.4v10.4h-10.4zM2924.2 713.3h10.4v10.4h-10.4zM2962.4 742.3h10.4v10.4h-10.4zM3074.2 778.8h10.4v10.4h-10.4zM3072.9 786.4h10.4v10.4h-10.4zM3149.3 830.1h10.4v10.4h-10.4zM3134.6 844h10.4v10.4h-10.4zM3130.9 854.9h10.4v10.4h-10.4zM3191.7 832.4h10.4v10.4h-10.4zM3184.6 839.5h10.4v10.4h-10.4zM3180.6 829.5h10.4v10.4h-10.4zM2993.7 721h10.4v10.4h-10.4zM2999.9 726.9h10.4v10.4h-10.4zM3054 834.4h10.4v10.4h-10.4zM2915.3 707.5h10.4v10.4h-10.4zM2983.6 692.1h10.4v10.4h-10.4zM2968.7 809.5h10.4v10.4h-10.4zM2962.1 813.2h10.4v10.4h-10.4zM2966.6 805.8h10.4v10.4h-10.4zM2975.8 804.6h10.4v10.4h-10.4zM2912.5 752.9h10.4v10.4h-10.4zM2906.1 749.1h10.4v10.4h-10.4zM3130.1 823.6h10.4v10.4h-10.4zM3138.6 821.9h10.4v10.4h-10.4zM3137 811h10.4v10.4h-10.4zM2931.5 711.1h10.4v10.4h-10.4zM2934 702.9h10.4v10.4h-10.4zM2953.2 709.7h10.4v10.4h-10.4zM2943.5 705.3h10.4v10.4h-10.4zM2934.8 785.8h10.4v10.4h-10.4zM2938 774.4h10.4v10.4h-10.4zM2969.1 756.9h10.4v10.4h-10.4zM2964.5 763h10.4v10.4h-10.4zM3176.2 819.8h10.4v10.4h-10.4zM2917.8 696.1h10.4v10.4h-10.4zM3016.3 738.4h10.4v10.4h-10.4zM3014 750.9h10.4v10.4h-10.4zM3161 818.6h10.4v10.4h-10.4zM3058.2 854.3h10.4v10.4h-10.4zM3100.5 733.5h10.4v10.4h-10.4zM2918.3 713.5h10.4v10.4h-10.4zM3112.6 773.2h10.4v10.4h-10.4zM3118.8 780.2h10.4v10.4h-10.4zM3108.6 793.6h10.4v10.4h-10.4zM3034 748.4h10.4v10.4h-10.4zM3043.8 743.5h10.4v10.4h-10.4zM3103.9 763.3h10.4v10.4h-10.4zM3094.6 813.9h10.4v10.4h-10.4zM3090.6 802.1h10.4v10.4h-10.4zM3096.9 795.4h10.4v10.4h-10.4zM2958.8 774.9h10.4v10.4h-10.4zM2974.7 785.8h10.4v10.4h-10.4zM3052.6 750.2h10.4v10.4h-10.4zM3053.9 740.7h10.4v10.4h-10.4zM3060.5 731.6h10.4v10.4h-10.4zM3070 732h10.4v10.4h-10.4zM3130 842h10.4v10.4h-10.4zM3134.9 848.3h10.4v10.4h-10.4zM3016.6 709.3h10.4v10.4h-10.4zM3005.2 711.1h10.4v10.4h-10.4zM2913.6 733.1h10.4v10.4h-10.4zM2909 739.8h10.4v10.4h-10.4zM2904.3 748.1h10.4v10.4h-10.4zM2910 757.7h10.4v10.4h-10.4zM3158.8 778.9h10.4v10.4h-10.4zM3161.3 789h10.4v10.4h-10.4zM3087.3 774.6h10.4v10.4h-10.4zM3098.2 770.2h10.4v10.4h-10.4zM2975.9 825.2h10.4v10.4h-10.4zM3097.6 753.9h10.4v10.4h-10.4zM3072.1 859.1h10.4v10.4h-10.4zM3064.5 857.6h10.4v10.4h-10.4zM2994 837h10.4v10.4h-10.4zM3102.7 793.6h10.4v10.4h-10.4zM2907.7 853.9h10.4v10.4h-10.4zM3005.8 868.8h10.4v10.4h-10.4zM3003.6 861h10.4v10.4h-10.4zM2913.2 743.8h10.4v10.4h-10.4zM3138.9 788.5h10.4v10.4h-10.4zM3144.3 793.9h10.4v10.4h-10.4zM3150.5 802.3h10.4v10.4h-10.4zM3118.9 787.9h10.4v10.4h-10.4zM2909.1 803.3h10.4v10.4h-10.4zM2919.7 797.4h10.4v10.4h-10.4zM2924.2 790.7h10.4v10.4h-10.4zM3129.3 794.5h10.4v10.4h-10.4zM3035.2 809.2h10.4v10.4h-10.4zM2957.6 794h10.4v10.4h-10.4zM2965.9 794.5h10.4v10.4h-10.4zM2930.9 751.4h10.4v10.4h-10.4zM2930.6 759.8h10.4v10.4h-10.4zM3157.5 786.9h10.4v10.4h-10.4zM3010.2 835.9h10.4v10.4h-10.4zM2977.1 754.6h10.4v10.4h-10.4zM2989.6 755.2h10.4v10.4h-10.4zM2998.2 756.8h10.4v10.4h-10.4zM3046.9 686.2h10.4v10.4h-10.4zM3000.7 595.2h10.4v10.4h-10.4zM3110.2 567.4h10.4v10.4h-10.4zM3115.1 574.4h10.4v10.4h-10.4zM2965.6 655.6h10.4v10.4h-10.4zM2956.4 657.8h10.4v10.4h-10.4zM2949.6 665.6h10.4v10.4h-10.4zM3065.8 521.2h10.4v10.4h-10.4zM3032.7 580.4h10.4v10.4h-10.4zM3025.1 583.1h10.4v10.4h-10.4zM3012.2 582.4h10.4v10.4h-10.4zM3048.6 555.8h10.4v10.4h-10.4zM3043.9 564.2h10.4v10.4h-10.4zM3064.1 672.9h10.4v10.4h-10.4zM3054.4 676h10.4v10.4h-10.4zM3062.3 680.8h10.4v10.4h-10.4zM3136.1 618.3h10.4v10.4h-10.4zM3146.1 620.1h10.4v10.4h-10.4zM2972.9 655.6h10.4v10.4h-10.4zM2965.5 651.5h10.4v10.4h-10.4zM2954.9 655.4h10.4v10.4h-10.4zM3131.3 685.9h10.4v10.4h-10.4zM3123.7 687h10.4v10.4h-10.4zM3112.9 691.9h10.4v10.4h-10.4zM3091.7 588.9h10.4v10.4h-10.4zM3100 502.4h10.4v10.4h-10.4zM3012.3 638.5h10.4v10.4h-10.4zM3097.7 533.8h10.4v10.4h-10.4zM3091.6 548.1h10.4v10.4h-10.4zM3024.4 683.9h10.4v10.4h-10.4zM3064.7 615.8h10.4v10.4h-10.4zM3075.8 611.4h10.4v10.4h-10.4zM3092.6 620.2h10.4v10.4h-10.4zM3059.8 623.7h10.4v10.4h-10.4zM3066 612.9h10.4v10.4h-10.4zM3080.2 617.6h10.4v10.4h-10.4zM3067.4 571.6h10.4v10.4h-10.4zM3054 571.5h10.4v10.4h-10.4zM3012.5 666.8h10.4v10.4h-10.4zM3064.6 691.8h10.4v10.4h-10.4zM3067.2 679.3h10.4v10.4h-10.4zM3056.4 680.6h10.4v10.4h-10.4zM3042.7 611.6h10.4v10.4h-10.4zM3054.4 685.9h10.4v10.4h-10.4zM3048.9 616.6h10.4v10.4h-10.4zM3044.6 609h10.4v10.4h-10.4zM3039.2 625.8h10.4v10.4h-10.4zM3034.4 634.2h10.4v10.4h-10.4zM3017.6 588h10.4v10.4h-10.4zM3059.6 696.6h10.4v10.4h-10.4zM3060 637.3h10.4v10.4h-10.4zM3062.9 681h10.4v10.4h-10.4zM3045 601.1h10.4v10.4h-10.4zM3048 592.2h10.4v10.4h-10.4zM3258.9 955.2h10.4v10.4h-10.4zM3250.8 947.4h10.4v10.4h-10.4zM3227.4 918.1h10.4v10.4h-10.4zM3227.9 934.9h10.4v10.4h-10.4zM3216.8 938.1h10.4v10.4h-10.4zM3215.8 873h10.4v10.4h-10.4zM3231.7 874.7h10.4v10.4h-10.4zM3217.7 859.8h10.4v10.4h-10.4zM3232.8 1001.4h10.4v10.4h-10.4zM3223.8 999.5h10.4v10.4h-10.4zM3229 1005h10.4v10.4h-10.4zM3185.2 916h10.4v10.4h-10.4zM3197.1 987h10.4v10.4h-10.4zM3231.3 961.2h10.4v10.4h-10.4zM3245.4 946h10.4v10.4h-10.4zM3243 892.6h10.4v10.4h-10.4zM3228.7 1008.7h10.4v10.4h-10.4zM3218.7 996.1h10.4v10.4h-10.4zM3222.1 985.4h10.4v10.4h-10.4zM3207.8 971.4h10.4v10.4h-10.4zM3189.8 906.9h10.4v10.4h-10.4zM3222.6 898.4h10.4v10.4h-10.4zM3229.4 925.9h10.4v10.4h-10.4zM3225.2 917.1h10.4v10.4h-10.4zM3214.5 916.9h10.4v10.4h-10.4zM3244.4 916.5h10.4v10.4h-10.4zM3243.2 920.5h10.4v10.4h-10.4zM3215.5 888.9h10.4v10.4h-10.4zM3192.5 907.7h10.4v10.4h-10.4zM3252.8 958.9h10.4v10.4h-10.4zM3216.6 892.6h10.4v10.4h-10.4zM3217.9 885h10.4v10.4h-10.4zM3211.1 891h10.4v10.4h-10.4zM3237.1 978.3h10.4v10.4h-10.4zM3199.7 967.3h10.4v10.4h-10.4zM3200.9 983.9h10.4v10.4h-10.4zM3213.1 880.5h10.4v10.4h-10.4zM3218 922.2h10.4v10.4h-10.4zM3227.8 917.5h10.4v10.4h-10.4zM3193.8 969.6h10.4v10.4h-10.4zM3201.3 960h10.4v10.4h-10.4zM3218.4 961.4h10.4v10.4h-10.4zM3208 885.8h10.4v10.4h-10.4zM3204.2 905.6h10.4v10.4h-10.4zM3210.7 899.1h10.4v10.4h-10.4zM3213.1 890.9h10.4v10.4h-10.4zM3234.3 892.2h10.4v10.4h-10.4zM3249.7 896h10.4v10.4h-10.4zM3231.8 878.4h10.4v10.4h-10.4zM3191.7 879.5h10.4v10.4h-10.4zM3206.3 873.9h10.4v10.4h-10.4zM3215.4 940.8h10.4v10.4h-10.4zM3254 924.2h10.4v10.4h-10.4zM3260 932.2h10.4v10.4h-10.4zM3249.2 916.2h10.4v10.4h-10.4zM3258.6 915h10.4v10.4h-10.4zM3211.5 999.4h10.4v10.4h-10.4zM3221.8 994h10.4v10.4h-10.4zM3228.3 550.5h10.4v10.4h-10.4zM3260.3 639.9h10.4v10.4h-10.4zM3243.8 626.3h10.4v10.4h-10.4zM3251 668.7h10.4v10.4h-10.4zM3246.7 633h10.4v10.4h-10.4zM3243.6 574.3h10.4v10.4h-10.4zM3235 581.5h10.4v10.4h-10.4zM3234.8 576.8h10.4v10.4h-10.4zM3230.5 586.8h10.4v10.4h-10.4zM3249.5 581.3h10.4v10.4h-10.4zM3243.1 572.6h10.4v10.4h-10.4zM3211.7 633.7h10.4v10.4h-10.4zM3202.3 636.5h10.4v10.4h-10.4zM3205.6 646.1h10.4v10.4h-10.4zM3208.1 633.5h10.4v10.4h-10.4zM3214.1 623.6h10.4v10.4h-10.4zM3202.8 690.1h10.4v10.4h-10.4zM3240.2 593.3h10.4v10.4h-10.4zM3237.8 583.3h10.4v10.4h-10.4zM3229.8 589.2h10.4v10.4h-10.4zM3269.2 629h10.4v10.4h-10.4zM3205.9 716.7h10.4v10.4h-10.4zM3170.3 846.3h10.4v10.4h-10.4zM3128 773.6h10.4v10.4h-10.4zM3123.1 833.1h10.4v10.4h-10.4zM3132.4 841.5h10.4v10.4h-10.4zM3107.4 810.3h10.4v10.4h-10.4zM3113.7 814.4h10.4v10.4h-10.4zM3105.3 818h10.4v10.4h-10.4zM3152.9 823.3h10.4v10.4h-10.4zM3145.3 831h10.4v10.4h-10.4zM3148.9 842h10.4v10.4h-10.4zM3139.2 824.1h10.4v10.4h-10.4zM3145.1 833.1h10.4v10.4h-10.4zM3158.7 838.7h10.4v10.4h-10.4zM3068.5 780.1h10.4v10.4h-10.4zM3064 770.6h10.4v10.4h-10.4zM3069.9 781.5h10.4v10.4h-10.4zM3117.5 763.7h10.4v10.4h-10.4zM3130.4 840.5h10.4v10.4h-10.4zM3135.8 831.4h10.4v10.4h-10.4zM3146.8 840.9h10.4v10.4h-10.4zM3106.4 767.1h10.4v10.4h-10.4zM3100.6 842.3h10.4v10.4h-10.4zM3095.4 849.7h10.4v10.4h-10.4zM3088.3 853.5h10.4v10.4h-10.4zM3097.7 813.9h10.4v10.4h-10.4zM3128.1 861.8h10.4v10.4h-10.4zM3122.7 844.8h10.4v10.4h-10.4zM3119.3 836h10.4v10.4h-10.4zM3073.4 850.8h10.4v10.4h-10.4zM3080.3 847.7h10.4v10.4h-10.4zM3093.9 836.7h10.4v10.4h-10.4zM3102.8 831.4h10.4v10.4h-10.4zM3094.2 835.9h10.4v10.4h-10.4zM3096.1 850.5h10.4v10.4h-10.4zM3102.7 793.5h10.4v10.4h-10.4zM3078.8 805.1h10.4v10.4h-10.4zM3069.7 796.2h10.4v10.4h-10.4zM3090.8 769.4h10.4v10.4h-10.4zM3176.6 824.7h10.4v10.4h-10.4zM3164.7 791.6h10.4v10.4h-10.4zM2826.2 670.7h10.4v10.4h-10.4zM2852.4 729.7h10.4v10.4h-10.4zM2842.5 689.8h10.4v10.4h-10.4zM2809.2 671.8h10.4v10.4h-10.4zM2818.9 708.4h10.4v10.4h-10.4zM2853.7 671.8h10.4v10.4h-10.4zM2797.7 649.1h10.4v10.4h-10.4zM3113.1 948.3h10.4v10.4h-10.4zM3084.8 943.1h10.4v10.4h-10.4zM3093.6 944.3h10.4v10.4h-10.4zM2993.5 990.7h10.4v10.4h-10.4zM2999.9 981.3h10.4v10.4h-10.4zM3042.1 1002h10.4v10.4h-10.4zM3040.6 999.8h10.4v10.4h-10.4zM3031.1 1004.3h10.4v10.4h-10.4zM3048.5 1004.2h10.4v10.4h-10.4zM3034.6 941.4h10.4v10.4h-10.4zM2989.4 1007.8h10.4v10.4h-10.4zM3105.8 945.6h10.4v10.4h-10.4zM3112.7 969.2h10.4v10.4h-10.4zM3115.8 979.9h10.4v10.4h-10.4zM2954.8 989.3h10.4v10.4h-10.4zM2794.8 648.8h10.4v10.4h-10.4zM2801.8 684.8h10.4v10.4h-10.4zM2840.8 601.8h10.4v10.4h-10.4zM2874.8 615.8h10.4v10.4h-10.4zM3232.8 581.8h10.4v10.4h-10.4zM3252.8 584.8h10.4v10.4h-10.4zM3185.8 580.8h10.4v10.4h-10.4zM3187.8 566.8h10.4v10.4h-10.4z"/>
<path fill="#E8801A" fill-opacity="0.85" d="M2953.6 841.4h10.4v10.4h-10.4zM2933 782.4h10.4v10.4h-10.4zM2929.6 801.7h10.4v10.4h-10.4zM2921.3 771.5h10.4v10.4h-10.4zM2965.5 765.1h10.4v10.4h-10.4zM2958.5 795.8h10.4v10.4h-10.4zM2950.6 791.9h10.4v10.4h-10.4zM3013.8 742.9h10.4v10.4h-10.4zM3123.4 871h10.4v10.4h-10.4zM2907.5 799.3h10.4v10.4h-10.4zM3035.8 735.1h10.4v10.4h-10.4zM2986.3 778.9h10.4v10.4h-10.4zM3041.2 852.5h10.4v10.4h-10.4zM2923.8 822.5h10.4v10.4h-10.4zM2973 736.5h10.4v10.4h-10.4zM3012.1 722.7h10.4v10.4h-10.4zM3021.4 729.7h10.4v10.4h-10.4zM3052.7 819h10.4v10.4h-10.4zM2916.8 698.3h10.4v10.4h-10.4zM2931.7 702.1h10.4v10.4h-10.4zM3011.6 771.8h10.4v10.4h-10.4zM2964.5 784.6h10.4v10.4h-10.4zM3095.7 778.9h10.4v10.4h-10.4zM3097.8 787h10.4v10.4h-10.4zM3035.3 686.3h10.4v10.4h-10.4zM2990.9 610h10.4v10.4h-10.4zM3122.4 569.2h10.4v10.4h-10.4zM3047.7 544.5h10.4v10.4h-10.4zM3153.3 671.5h10.4v10.4h-10.4zM3047.9 658.6h10.4v10.4h-10.4zM3116.2 608.9h10.4v10.4h-10.4zM2994.3 637.9h10.4v10.4h-10.4zM3072.2 620.1h10.4v10.4h-10.4zM3055.8 580.1h10.4v10.4h-10.4zM3022.3 667.1h10.4v10.4h-10.4zM3047 679.1h10.4v10.4h-10.4zM3044.5 668.1h10.4v10.4h-10.4zM3050.9 681.5h10.4v10.4h-10.4zM3045.9 599.8h10.4v10.4h-10.4zM3066 713.4h10.4v10.4h-10.4zM3044.5 583.2h10.4v10.4h-10.4zM3214.6 865.1h10.4v10.4h-10.4zM3224.6 881h10.4v10.4h-10.4zM3192.6 907.5h10.4v10.4h-10.4zM3238.9 901.8h10.4v10.4h-10.4zM3237.4 884.7h10.4v10.4h-10.4zM3245.4 930.3h10.4v10.4h-10.4zM3242.6 958.9h10.4v10.4h-10.4zM3227.4 893.8h10.4v10.4h-10.4zM3193.8 974.2h10.4v10.4h-10.4zM3217.6 911.5h10.4v10.4h-10.4zM3247.6 885.9h10.4v10.4h-10.4zM3195 886.8h10.4v10.4h-10.4zM3252.1 635.3h10.4v10.4h-10.4zM3252.6 573h10.4v10.4h-10.4zM3217.6 693.4h10.4v10.4h-10.4zM3214.8 727.5h10.4v10.4h-10.4zM3118.7 774.7h10.4v10.4h-10.4zM3126.1 825.5h10.4v10.4h-10.4zM3138.4 846.4h10.4v10.4h-10.4zM3116.3 807.3h10.4v10.4h-10.4zM3150.2 839.5h10.4v10.4h-10.4zM3108.6 840h10.4v10.4h-10.4zM3065.5 805h10.4v10.4h-10.4zM2862.9 665.1h10.4v10.4h-10.4zM2863.4 699.6h10.4v10.4h-10.4zM2813.5 625h10.4v10.4h-10.4zM2826.5 709.3h10.4v10.4h-10.4zM2869.1 648.6h10.4v10.4h-10.4zM2812.8 605.3h10.4v10.4h-10.4zM3114.8 957.9h10.4v10.4h-10.4zM3098.6 958.4h10.4v10.4h-10.4zM2974.5 953.3h10.4v10.4h-10.4zM2866.8 730.8h10.4v10.4h-10.4z"/>
<path fill="#E8801A" fill-opacity="0.6" d="M2946.6 751.9h10.4v10.4h-10.4zM2934.2 774.9h10.4v10.4h-10.4zM2932.5 804.7h10.4v10.4h-10.4zM2946.6 834.6h10.4v10.4h-10.4zM2952.3 853.3h10.4v10.4h-10.4zM2947.7 854.1h10.4v10.4h-10.4zM2930.5 785.6h10.4v10.4h-10.4zM2939.7 815.5h10.4v10.4h-10.4zM2961.9 786.5h10.4v10.4h-10.4zM2965.6 744.9h10.4v10.4h-10.4zM2957.1 771.7h10.4v10.4h-10.4zM2953.4 791.5h10.4v10.4h-10.4zM2966.2 791.7h10.4v10.4h-10.4zM3069.3 861.5h10.4v10.4h-10.4zM3015.9 861.7h10.4v10.4h-10.4zM3020.4 865.4h10.4v10.4h-10.4zM2928.3 734.8h10.4v10.4h-10.4zM3081.2 773h10.4v10.4h-10.4zM3025.2 711.1h10.4v10.4h-10.4zM2914.7 743.1h10.4v10.4h-10.4zM3126 831.4h10.4v10.4h-10.4zM2914 707.1h10.4v10.4h-10.4zM2926.3 695.3h10.4v10.4h-10.4zM3117.1 790.3h10.4v10.4h-10.4zM3112.4 766.4h10.4v10.4h-10.4zM2918.4 755h10.4v10.4h-10.4zM3090.1 845.1h10.4v10.4h-10.4zM3031.1 803.9h10.4v10.4h-10.4zM3042.2 806h10.4v10.4h-10.4zM2922.4 742.1h10.4v10.4h-10.4zM3031.7 830.1h10.4v10.4h-10.4zM3019.1 833.4h10.4v10.4h-10.4zM2997 603.1h10.4v10.4h-10.4zM3081.2 523.4h10.4v10.4h-10.4zM3072.3 517.2h10.4v10.4h-10.4zM3031.5 628.9h10.4v10.4h-10.4zM3054.7 688.6h10.4v10.4h-10.4zM3004.9 635.4h10.4v10.4h-10.4zM3085.4 614.8h10.4v10.4h-10.4zM3062.2 564.8h10.4v10.4h-10.4zM3063.5 699.6h10.4v10.4h-10.4zM3035.4 604.3h10.4v10.4h-10.4zM3039.7 602.7h10.4v10.4h-10.4zM3060.1 679.3h10.4v10.4h-10.4zM3055.3 676.8h10.4v10.4h-10.4zM3243.5 941.6h10.4v10.4h-10.4zM3226.6 860.5h10.4v10.4h-10.4zM3239.2 903.5h10.4v10.4h-10.4zM3242.1 957.6h10.4v10.4h-10.4zM3230.4 999.7h10.4v10.4h-10.4zM3203.3 980.3h10.4v10.4h-10.4zM3235.7 894h10.4v10.4h-10.4zM3187.9 918.8h10.4v10.4h-10.4zM3196.2 913.9h10.4v10.4h-10.4zM3224.2 900.3h10.4v10.4h-10.4zM3207.7 966.1h10.4v10.4h-10.4zM3240.6 913.2h10.4v10.4h-10.4zM3210.6 957.8h10.4v10.4h-10.4zM3210.8 896.4h10.4v10.4h-10.4zM3198.2 873.6h10.4v10.4h-10.4zM3207 946.8h10.4v10.4h-10.4zM3253 931.9h10.4v10.4h-10.4zM3256.7 907.9h10.4v10.4h-10.4zM3238.8 572.5h10.4v10.4h-10.4zM3153.9 832.2h10.4v10.4h-10.4zM3163.6 849h10.4v10.4h-10.4zM3098.2 856h10.4v10.4h-10.4zM3097.7 805.1h10.4v10.4h-10.4zM3089.1 807.2h10.4v10.4h-10.4zM3166.7 817.4h10.4v10.4h-10.4zM3181.1 816.3h10.4v10.4h-10.4zM2873.7 658.3h10.4v10.4h-10.4zM2820.9 612.6h10.4v10.4h-10.4zM2998.6 1008.8h10.4v10.4h-10.4zM3082.2 944.8h10.4v10.4h-10.4zM3078.6 956.5h10.4v10.4h-10.4zM2960.6 1001h10.4v10.4h-10.4zM2832.8 718.8h10.4v10.4h-10.4zM3021.8 522.8h10.4v10.4h-10.4zM3147.8 501.8h10.4v10.4h-10.4zM3257.8 570.8h10.4v10.4h-10.4zM3306.8 658.8h10.4v10.4h-10.4zM3179.8 644.8h10.4v10.4h-10.4zM3148.8 1015.8h10.4v10.4h-10.4zM3090.8 1014.8h10.4v10.4h-10.4zM2971.8 924.8h10.4v10.4h-10.4zM2975.8 939.8h10.4v10.4h-10.4zM3263.8 959.8h10.4v10.4h-10.4zM3268.8 919.8h10.4v10.4h-10.4zM3256.8 886.8h10.4v10.4h-10.4zM3256.8 684.8h10.4v10.4h-10.4zM3246.8 666.8h10.4v10.4h-10.4z"/>
<path fill="#E8801A" fill-opacity="0.35" d="M2918.9 772.9h10.4v10.4h-10.4zM2919.3 765h10.4v10.4h-10.4zM2972.1 826h10.4v10.4h-10.4zM2970.2 816.7h10.4v10.4h-10.4zM2922.9 782.2h10.4v10.4h-10.4zM2927.4 766.7h10.4v10.4h-10.4zM2966.3 794.8h10.4v10.4h-10.4zM2971.6 783.5h10.4v10.4h-10.4zM2968.1 751.6h10.4v10.4h-10.4zM2944.9 759.3h10.4v10.4h-10.4zM2958.2 775.2h10.4v10.4h-10.4zM2966.4 763h10.4v10.4h-10.4zM2940.5 794.6h10.4v10.4h-10.4zM3036 832.5h10.4v10.4h-10.4zM2965.5 862.7h10.4v10.4h-10.4zM3057.7 863h10.4v10.4h-10.4zM3136 799.9h10.4v10.4h-10.4zM3138.3 836.7h10.4v10.4h-10.4zM3048.2 829.1h10.4v10.4h-10.4zM3016.4 760.1h10.4v10.4h-10.4zM3065.6 863.2h10.4v10.4h-10.4zM2922.4 704h10.4v10.4h-10.4zM2917 693.5h10.4v10.4h-10.4zM3122.8 853.1h10.4v10.4h-10.4zM2971.1 818.8h10.4v10.4h-10.4zM3139.8 866.6h10.4v10.4h-10.4zM3147.7 775h10.4v10.4h-10.4zM3020.3 869.3h10.4v10.4h-10.4zM3030.1 815.3h10.4v10.4h-10.4zM2939.6 766.7h10.4v10.4h-10.4zM2999.8 832.3h10.4v10.4h-10.4zM3144.2 586.4h10.4v10.4h-10.4zM3038 554.8h10.4v10.4h-10.4zM3089.7 538.9h10.4v10.4h-10.4zM3018.3 661.3h10.4v10.4h-10.4zM3053.4 623.3h10.4v10.4h-10.4zM3057.7 703.9h10.4v10.4h-10.4zM3066.1 688.6h10.4v10.4h-10.4zM3061.2 645.9h10.4v10.4h-10.4zM3248.6 954.2h10.4v10.4h-10.4zM3231.5 945.3h10.4v10.4h-10.4zM3194.9 975.5h10.4v10.4h-10.4zM3185.7 899.2h10.4v10.4h-10.4zM3232.7 984.7h10.4v10.4h-10.4zM3230.5 927.1h10.4v10.4h-10.4zM3223.4 889.2h10.4v10.4h-10.4zM3221.3 705.6h10.4v10.4h-10.4zM3247.8 593.2h10.4v10.4h-10.4zM3251 589.5h10.4v10.4h-10.4zM3162.7 850.4h10.4v10.4h-10.4zM3099.2 798.8h10.4v10.4h-10.4zM3170.5 837.2h10.4v10.4h-10.4zM3172.2 845.7h10.4v10.4h-10.4zM3089.3 853.3h10.4v10.4h-10.4zM3170.3 798.5h10.4v10.4h-10.4zM2860.3 707.1h10.4v10.4h-10.4zM3051.4 1000.8h10.4v10.4h-10.4zM2999.5 959.3h10.4v10.4h-10.4zM3101.4 956h10.4v10.4h-10.4zM2969.3 1005h10.4v10.4h-10.4zM2846.8 725.8h10.4v10.4h-10.4zM2856.8 732.8h10.4v10.4h-10.4zM2874.8 734.8h10.4v10.4h-10.4zM2826.8 724.8h10.4v10.4h-10.4zM2834.8 738.8h10.4v10.4h-10.4zM2953.8 629.8h10.4v10.4h-10.4zM3297.8 658.8h10.4v10.4h-10.4zM3235.8 727.8h10.4v10.4h-10.4zM3174.8 600.8h10.4v10.4h-10.4zM3105.4 1067.8h10.4v10.4h-10.4zM3165.8 956.8h10.4v10.4h-10.4zM3151.8 999.8h10.4v10.4h-10.4zM3253.8 676.8h10.4v10.4h-10.4z"/>
<circle cx="3139.5" cy="549" r="37.9" fill="#35210F"/>
<circle cx="2854" cy="651" r="37.9" fill="#35210F"/>
<circle cx="2827.4" cy="789" r="37.9" fill="#35210F"/>
<circle cx="2852.7" cy="902.6" r="37.9" fill="#35210F"/>
<circle cx="2935.8" cy="902.6" r="37.9" fill="#35210F"/>
<circle cx="3053.5" cy="862.6" r="37.9" fill="#35210F"/>
<circle cx="3061" cy="906.5" r="37.9" fill="#35210F"/>
<circle cx="3142" cy="841" r="37.9" fill="#35210F"/>
<circle cx="3138.5" cy="855" r="37.9" fill="#35210F"/>
<circle cx="3168.7" cy="921.5" r="37.9" fill="#35210F"/>
<circle cx="2851" cy="1010.5" r="37.9" fill="#35210F"/>
<circle cx="3208" cy="1013.5" r="37.9" fill="#35210F"/>
<text transform="translate(3139.5 576.2) scale(1 1.03)" font-size="75" fill="#E6E6E6" text-anchor="middle">S</text>
<text transform="translate(2854 678.2) scale(1 1.03)" font-size="75" fill="#E6E6E6" text-anchor="middle">S</text>
<text transform="translate(2827.4 816.2) scale(1 1.03)" font-size="75" fill="#E6E6E6" text-anchor="middle">S</text>
<text transform="translate(2852.7 929.8) scale(1 1.03)" font-size="75" fill="#E6E6E6" text-anchor="middle">S</text>
<text transform="translate(2935.8 929.8) scale(1 1.03)" font-size="75" fill="#E6E6E6" text-anchor="middle">S</text>
<text transform="translate(3053.5 889.8) scale(1 1.03)" font-size="75" fill="#E6E6E6" text-anchor="middle">S</text>
<text transform="translate(3061 933.7) scale(1 1.03)" font-size="75" fill="#E6E6E6" text-anchor="middle">S</text>
<text transform="translate(3142 868.2) scale(1 1.03)" font-size="75" fill="#E6E6E6" text-anchor="middle">S</text>
<text transform="translate(3138.5 882.2) scale(1 1.03)" font-size="75" fill="#E6E6E6" text-anchor="middle">S</text>
<text transform="translate(3168.7 948.7) scale(1 1.03)" font-size="75" fill="#E6E6E6" text-anchor="middle">S</text>
<text transform="translate(2851 1037.7) scale(1 1.03)" font-size="75" fill="#E6E6E6" text-anchor="middle">S</text>
<text transform="translate(3208 1040.7) scale(1 1.03)" font-size="75" fill="#E6E6E6" text-anchor="middle">S</text>
<circle cx="3181" cy="740" r="37.9" fill="#E5E5E5"/>
<circle cx="2705" cy="932.5" r="37.9" fill="#E5E5E5"/>
<text transform="translate(3181 766.6) scale(1 1.09)" font-size="72" fill="#1a1a1a" text-anchor="middle">A</text>
<text transform="translate(2705 959.1) scale(1 1.09)" font-size="72" fill="#1a1a1a" text-anchor="middle">A</text>
</g>
<rect x="513.6" y="1173" width="8.6" height="22.6" fill="#333333"/>
<text transform="translate(517.9 1244.3) scale(.99 1.08)" font-size="41" fill="#4d4d4d" text-anchor="middle">1000</text>
<rect x="790.1" y="1173" width="8.6" height="22.6" fill="#333333"/>
<text transform="translate(794.4 1244.3) scale(.99 1.08)" font-size="41" fill="#4d4d4d" text-anchor="middle">1250</text>
<rect x="1066.6" y="1173" width="8.6" height="22.6" fill="#333333"/>
<text transform="translate(1070.9 1244.3) scale(.99 1.08)" font-size="41" fill="#4d4d4d" text-anchor="middle">1500</text>
<rect x="249.5" y="491.1" width="23" height="8.8" fill="#333333"/>
<text transform="translate(204.5 510.9) scale(.985 1.1)" font-size="41" fill="#4d4d4d" text-anchor="middle">1000</text>
<rect x="249.5" y="782.1" width="23" height="8.8" fill="#333333"/>
<text transform="translate(204.5 801.9) scale(.985 1.1)" font-size="41" fill="#4d4d4d" text-anchor="middle">750</text>
<rect x="249.5" y="1073.1" width="23" height="8.8" fill="#333333"/>
<text transform="translate(204.5 1092.9) scale(.985 1.1)" font-size="41" fill="#4d4d4d" text-anchor="middle">500</text>
<rect x="268.1" y="210.5" width="8.6" height="962.8" fill="#1a1a1a"/>
<rect x="272.4" y="1168.7" width="962.6" height="8.6" fill="#1a1a1a"/>
<text x="275.3" y="59.8" font-size="66.7" font-weight="bold" font-style="italic" fill="#4A0E9E">A – Badger</text>
<text x="274.5" y="155.3" font-size="49.3" font-style="italic" fill="#1a1a1a">Each cell = 5m</text>
<rect x="1486.5" y="1173" width="8.6" height="22.6" fill="#333333"/>
<text transform="translate(1490.8 1244.3) scale(.99 1.08)" font-size="41" fill="#4d4d4d" text-anchor="middle">750</text>
<rect x="1640.2" y="1173" width="8.6" height="22.6" fill="#333333"/>
<text transform="translate(1644.5 1244.3) scale(.99 1.08)" font-size="41" fill="#4d4d4d" text-anchor="middle">1000</text>
<rect x="1793.9" y="1173" width="8.6" height="22.6" fill="#333333"/>
<text transform="translate(1798.2 1244.3) scale(.99 1.08)" font-size="41" fill="#4d4d4d" text-anchor="middle">1250</text>
<rect x="1947.6" y="1173" width="8.6" height="22.6" fill="#333333"/>
<text transform="translate(1951.9 1244.3) scale(.99 1.08)" font-size="41" fill="#4d4d4d" text-anchor="middle">1500</text>
<rect x="2101.3" y="1173" width="8.6" height="22.6" fill="#333333"/>
<text transform="translate(2105.6 1244.3) scale(.99 1.08)" font-size="41" fill="#4d4d4d" text-anchor="middle">1750</text>
<rect x="2255" y="1173" width="8.6" height="22.6" fill="#333333"/>
<text transform="translate(2259.3 1244.3) scale(.99 1.08)" font-size="41" fill="#4d4d4d" text-anchor="middle">2000</text>
<rect x="1325" y="252.4" width="23" height="8.8" fill="#333333"/>
<rect x="1325" y="361.2" width="23" height="8.8" fill="#333333"/>
<rect x="1325" y="469.9" width="23" height="8.8" fill="#333333"/>
<rect x="1325" y="578.7" width="23" height="8.8" fill="#333333"/>
<rect x="1325" y="687.4" width="23" height="8.8" fill="#333333"/>
<rect x="1325" y="796.2" width="23" height="8.8" fill="#333333"/>
<rect x="1325" y="905" width="23" height="8.8" fill="#333333"/>
<rect x="1325" y="1013.7" width="23" height="8.8" fill="#333333"/>
<rect x="1325" y="1122.5" width="23" height="8.8" fill="#333333"/>
<rect x="1343.6" y="210.5" width="8.6" height="962.8" fill="#1a1a1a"/>
<rect x="1347.9" y="1168.7" width="962.6" height="8.6" fill="#1a1a1a"/>
<text x="1350" y="59.8" font-size="66.7" font-weight="bold" font-style="italic" fill="#7B22D8">B – Vulture</text>
<text x="1350" y="155.3" font-size="49.3" font-style="italic" fill="#1a1a1a">Each cell = 20m</text>
<rect x="2490.2" y="1173" width="8.6" height="22.6" fill="#333333"/>
<text transform="translate(2494.5 1244.3) scale(.99 1.08)" font-size="41" fill="#4d4d4d" text-anchor="middle">250</text>
<rect x="2665.1" y="1173" width="8.6" height="22.6" fill="#333333"/>
<text transform="translate(2669.4 1244.3) scale(.99 1.08)" font-size="41" fill="#4d4d4d" text-anchor="middle">500</text>
<rect x="2839.9" y="1173" width="8.6" height="22.6" fill="#333333"/>
<text transform="translate(2844.2 1244.3) scale(.99 1.08)" font-size="41" fill="#4d4d4d" text-anchor="middle">750</text>
<rect x="3014.8" y="1173" width="8.6" height="22.6" fill="#333333"/>
<text transform="translate(3019.1 1244.3) scale(.99 1.08)" font-size="41" fill="#4d4d4d" text-anchor="middle">1000</text>
<rect x="3189.7" y="1173" width="8.6" height="22.6" fill="#333333"/>
<text transform="translate(3194 1244.3) scale(.99 1.08)" font-size="41" fill="#4d4d4d" text-anchor="middle">1250</text>
<rect x="3364.6" y="1173" width="8.6" height="22.6" fill="#333333"/>
<text transform="translate(3368.9 1244.3) scale(.99 1.08)" font-size="41" fill="#4d4d4d" text-anchor="middle">1500</text>
<rect x="2400.5" y="451.3" width="23" height="8.8" fill="#333333"/>
<rect x="2400.5" y="710.1" width="23" height="8.8" fill="#333333"/>
<rect x="2400.5" y="968.9" width="23" height="8.8" fill="#333333"/>
<rect x="2419.1" y="210.5" width="8.6" height="962.8" fill="#1a1a1a"/>
<rect x="2423.4" y="1168.7" width="962.6" height="8.6" fill="#1a1a1a"/>
<text x="2425.2" y="59.8" font-size="66.7" font-weight="bold" font-style="italic" fill="#A96CEE">C – King Cobra</text>
<text x="2425.5" y="155.3" font-size="49.3" font-style="italic" fill="#1a1a1a">Each cell = 10m</text>
<text x="157.2" y="233.7" font-size="32.5" font-weight="bold" fill="#1a1a1a" text-anchor="end">Cell</text>
<text x="157" y="269.8" font-size="32.5" font-weight="bold" fill="#1a1a1a" text-anchor="end">number y</text>
<text x="3385.8" y="1275.9" font-size="32.5" font-weight="bold" fill="#1a1a1a" text-anchor="end">Cell number x</text>
</svg>
</body></html>
